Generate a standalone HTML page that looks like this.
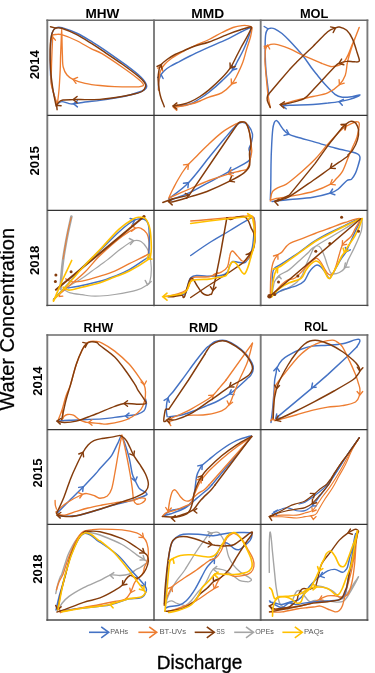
<!DOCTYPE html>
<html><head><meta charset="utf-8"><style>
html,body{margin:0;padding:0;background:#fff;width:375px;height:673px;overflow:hidden}
svg{display:block;will-change:transform}
</style></head><body>
<svg width="375" height="673" viewBox="0 0 375 673">
<rect width="375" height="673" fill="#fff"/>
<g fill="none" stroke-linecap="round" stroke-linejoin="round">
<path d="M56.5 104.0C55.6 100.0 52.0 89.0 51.0 80.0C50.0 71.0 50.3 57.8 50.5 50.0C50.7 42.2 51.1 36.7 52.0 33.0C52.9 29.3 54.3 28.7 56.0 27.8C57.7 26.9 58.4 26.7 62.0 27.6C65.6 28.6 72.4 31.1 77.5 33.5C82.6 35.9 88.2 39.6 92.6 42.2C97.0 44.8 98.2 45.5 103.7 49.3C109.2 53.1 119.6 60.3 125.8 64.9C132.0 69.5 137.3 73.6 140.8 77.0C144.3 80.4 146.1 83.3 146.6 85.5C147.1 87.7 146.8 88.4 144.0 90.0C141.2 91.6 134.8 93.7 130.0 95.0C125.2 96.3 120.0 97.1 115.0 98.0C110.0 98.9 105.0 99.7 100.0 100.4C95.0 101.1 89.3 101.4 85.0 102.0C80.7 102.6 76.7 103.5 74.0 103.8C71.3 104.1 71.0 104.0 69.0 103.6C67.0 103.2 63.8 101.6 62.0 101.6C60.2 101.6 58.7 103.2 58.0 103.5" stroke="#4472C4" stroke-width="1.45"/>
<path d="M77.4 100.7L73.5 103.8L77.4 106.9" stroke="#4472C4" stroke-width="1.45" stroke-linejoin="miter"/>
<path d="M57.3 104.5C56.3 101.2 52.4 90.8 51.4 85.0C50.4 79.2 51.3 75.9 51.4 69.9C51.5 64.0 51.9 54.6 52.1 49.3C52.3 44.0 52.5 40.4 52.6 38.0C52.7 35.6 51.9 35.8 52.5 35.2C53.1 34.6 54.5 34.6 56.0 34.5C57.5 34.4 58.3 33.7 61.7 34.7C65.1 35.7 71.4 38.2 76.3 40.5C81.2 42.8 86.7 46.4 91.0 48.6C95.3 50.8 96.8 50.6 102.0 53.7C107.2 56.8 116.2 63.0 122.0 67.0C127.8 71.0 133.4 75.1 137.0 78.0C140.6 80.9 143.0 83.1 143.5 84.5C144.0 85.9 142.4 86.2 140.0 86.6C137.6 87.0 133.5 86.9 129.3 86.9C125.1 86.9 119.6 86.8 114.7 86.6C109.8 86.4 104.9 86.0 100.0 85.5C95.1 85.0 89.5 84.3 85.1 83.3C80.7 82.3 76.4 81.0 73.4 79.6C70.4 78.2 68.7 77.1 67.0 75.0C65.3 72.9 64.0 70.3 63.2 67.0C62.4 63.7 62.6 59.5 62.4 55.0C62.2 50.5 62.1 44.3 62.0 40.0C61.9 35.7 61.8 29.0 61.7 29.0C61.6 29.0 61.4 35.7 61.2 40.0C61.0 44.3 60.8 50.0 60.6 55.0C60.4 60.0 60.5 64.2 60.2 70.0C59.9 75.8 59.5 84.2 59.0 90.0C58.5 95.8 57.6 102.1 57.3 104.5" stroke="#ED7D31" stroke-width="1.35"/>
<path d="M55.4 40.2L52.9 37.0L50.4 40.2" stroke="#ED7D31" stroke-width="1.35" stroke-linejoin="miter"/>
<path d="M77.6 77.4L73.0 79.4L76.0 83.4" stroke="#ED7D31" stroke-width="1.35" stroke-linejoin="miter"/>
<path d="M56.1 106.0C55.6 103.3 53.9 96.0 53.0 90.0C52.1 84.0 51.1 76.7 50.6 70.0C50.1 63.3 50.0 55.3 50.1 50.0C50.2 44.7 50.5 41.2 51.0 38.0C51.5 34.8 52.2 32.6 53.0 31.0C53.8 29.4 54.3 28.6 55.8 28.1C57.2 27.7 58.3 27.2 61.7 28.3C65.1 29.4 71.4 31.9 76.3 34.4C81.2 36.9 86.7 40.5 91.0 43.2C95.3 45.9 96.8 46.9 102.0 50.4C107.2 53.9 116.0 59.7 122.0 64.0C128.0 68.3 134.2 72.9 138.0 76.0C141.8 79.1 143.2 80.8 144.5 82.5C145.8 84.2 146.1 84.8 145.7 86.3C145.3 87.8 144.3 90.1 142.0 91.5C139.7 92.9 135.3 93.7 132.0 94.5C128.7 95.3 125.7 95.9 122.0 96.5C118.3 97.1 113.7 97.8 110.0 98.3C106.3 98.8 104.2 99.2 100.0 99.4C95.8 99.6 89.4 99.6 85.0 99.6C80.6 99.6 77.1 99.5 73.4 99.6C69.7 99.7 65.4 99.6 63.0 100.0C60.6 100.4 60.1 101.0 59.0 102.0C57.9 103.0 56.6 105.3 56.1 106.0" stroke="#843C0C" stroke-width="1.45"/>
<path d="M50.5 26.7L55.8 28.1" stroke="#843C0C" stroke-width="1.45"/>
<path d="M77.1 96.5L73.2 99.6L77.1 102.7" stroke="#843C0C" stroke-width="1.45" stroke-linejoin="miter"/>
<path d="M61.1 105.7L56.6 105.2L57.1 109.7" stroke="#843C0C" stroke-width="1.45" stroke-linejoin="miter"/>
<path d="M158.6 90.0C158.6 88.8 158.3 85.3 158.6 83.0C158.9 80.7 159.5 78.0 160.4 76.0C161.3 74.0 162.4 72.6 164.0 71.0C165.6 69.4 167.5 68.0 170.0 66.5C172.5 65.0 175.6 63.5 178.9 61.8C182.2 60.0 185.0 58.5 190.0 56.0C195.0 53.5 202.5 50.1 209.0 47.1C215.5 44.1 223.7 40.8 229.0 38.3C234.3 35.8 237.6 33.7 241.0 32.0C244.4 30.3 247.8 28.5 249.5 28.0C251.2 27.5 251.1 27.7 251.0 29.0C250.9 30.3 250.2 32.6 249.0 36.0C247.8 39.4 245.7 45.0 243.7 49.3C241.7 53.6 239.0 58.4 237.1 62.0C235.2 65.6 234.6 67.6 232.0 70.8C229.4 74.0 225.5 77.5 221.7 81.1C217.9 84.7 212.6 89.3 209.0 92.2C205.4 95.1 203.1 96.6 200.0 98.5C196.9 100.4 194.2 102.5 190.7 103.8C187.2 105.0 181.3 105.6 178.9 106.0C176.5 106.4 176.5 106.2 176.0 106.2" stroke="#4472C4" stroke-width="1.45"/>
<path d="M163.1 78.5L161.0 74.5L157.7 77.5" stroke="#4472C4" stroke-width="1.45" stroke-linejoin="miter"/>
<path d="M232.3 65.5L232.5 70.0L236.8 68.7" stroke="#4472C4" stroke-width="1.45" stroke-linejoin="miter"/>
<path d="M174.5 107.3C176.2 107.0 182.3 106.0 185.0 105.5C187.7 105.0 188.2 105.0 190.7 104.2C193.2 103.5 196.9 102.2 200.0 101.0C203.1 99.8 205.4 98.6 209.0 97.2C212.6 95.8 218.0 94.9 221.7 92.8C225.4 90.7 228.8 87.4 231.2 84.7C233.6 82.0 234.4 80.5 236.3 76.7C238.2 72.9 241.2 66.6 242.9 62.0C244.6 57.4 245.3 53.5 246.6 49.3C247.9 45.1 249.6 40.4 250.5 37.0C251.4 33.6 251.8 30.6 252.0 29.0C252.2 27.4 252.3 27.8 251.7 27.3C251.1 26.8 250.1 26.1 248.5 25.8C246.9 25.5 244.6 25.3 242.0 25.6C239.4 25.9 236.3 26.4 233.0 27.5C229.7 28.6 226.0 30.5 222.0 32.5C218.0 34.5 213.5 37.3 209.0 39.5C204.5 41.7 199.3 43.5 195.0 45.5C190.7 47.5 187.1 49.2 183.3 51.3C179.5 53.4 175.1 55.8 172.0 58.0C168.9 60.2 166.4 62.3 164.5 64.5C162.6 66.7 161.4 68.4 160.5 71.0C159.6 73.6 159.3 76.8 159.0 80.0C158.7 83.2 158.6 88.3 158.5 90.0" stroke="#ED7D31" stroke-width="1.35"/>
<path d="M162.6 71.0L162.0 66.5L157.8 68.2" stroke="#ED7D31" stroke-width="1.35" stroke-linejoin="miter"/>
<path d="M231.2 79.0L231.5 84.0L236.3 82.5" stroke="#ED7D31" stroke-width="1.35" stroke-linejoin="miter"/>
<path d="M177.3 104.8L173.5 107.3L176.8 110.4" stroke="#ED7D31" stroke-width="1.35" stroke-linejoin="miter"/>
<path d="M164.3 106.7C163.8 105.2 161.8 100.6 161.0 98.0C160.2 95.4 159.9 94.4 159.4 91.3C158.9 88.2 158.2 83.3 158.1 79.6C158.0 75.9 158.6 71.8 159.1 69.3C159.6 66.8 160.0 66.1 161.3 64.5C162.6 62.9 164.7 61.2 167.0 59.5C169.3 57.8 172.3 56.0 175.0 54.5C177.7 53.0 180.0 52.2 183.3 50.8C186.6 49.4 190.7 47.5 195.0 46.0C199.3 44.5 203.3 44.0 209.0 42.0C214.7 40.0 223.8 35.9 229.0 33.9C234.2 31.9 236.6 31.1 240.0 30.0C243.4 28.9 247.6 27.4 249.5 27.0C251.4 26.6 251.4 26.8 251.5 27.5C251.6 28.2 250.8 29.3 250.0 31.0C249.2 32.7 248.1 34.9 246.6 37.6C245.1 40.4 242.7 44.3 241.0 47.5C239.3 50.7 238.1 53.3 236.3 56.7C234.6 60.1 232.9 64.1 230.5 67.7C228.1 71.3 225.3 74.4 221.7 78.1C218.1 81.8 212.6 86.8 209.0 89.9C205.4 93.0 203.1 94.5 200.0 96.5C196.9 98.5 193.7 100.3 190.7 101.6C187.7 102.9 184.2 103.9 182.0 104.5C179.8 105.1 178.9 105.0 177.5 105.3C176.1 105.5 174.0 105.9 173.3 106.0" stroke="#843C0C" stroke-width="1.45"/>
<path d="M162.0 68.9L161.0 64.5L157.0 66.5" stroke="#843C0C" stroke-width="1.45" stroke-linejoin="miter"/>
<path d="M230.0 63.0L230.3 68.0L235.1 66.5" stroke="#843C0C" stroke-width="1.45" stroke-linejoin="miter"/>
<path d="M176.9 102.9L173.0 106.0L176.9 109.1" stroke="#843C0C" stroke-width="1.45" stroke-linejoin="miter"/>
<path d="M268.8 95.0C268.6 92.9 267.8 86.7 267.3 82.5C266.8 78.3 266.3 75.4 265.9 69.9C265.5 64.4 265.2 55.1 265.1 49.3C265.1 43.5 265.2 38.3 265.6 35.0C266.0 31.7 266.7 30.6 267.5 29.5C268.3 28.4 269.3 28.3 270.5 28.2C271.7 28.1 272.8 27.9 274.7 28.8C276.6 29.7 279.6 31.6 282.0 33.5C284.4 35.5 285.9 36.9 289.3 40.5C292.7 44.1 298.8 50.7 302.5 55.2C306.2 59.7 308.7 64.0 311.3 67.5C313.9 71.0 315.8 73.2 318.0 76.0C320.2 78.8 321.9 81.0 324.7 84.0C327.5 87.0 332.1 92.1 335.0 94.3C337.9 96.5 339.5 96.8 342.3 97.2C345.1 97.6 349.1 97.0 352.0 96.6C354.9 96.2 360.3 94.5 359.9 95.0C359.5 95.5 353.1 98.3 349.7 99.4C346.3 100.5 343.1 101.0 339.4 101.6C335.7 102.2 332.1 102.6 327.7 103.1C323.3 103.6 319.4 104.1 313.0 104.5C306.6 104.9 294.5 105.0 289.3 105.3C284.1 105.5 283.2 105.9 282.0 106.0" stroke="#4472C4" stroke-width="1.45"/>
<path d="M264.2 26.5L267.5 28.5" stroke="#4472C4" stroke-width="1.45"/>
<path d="M343.4 99.3L339.0 101.6L342.3 105.3" stroke="#4472C4" stroke-width="1.45" stroke-linejoin="miter"/>
<path d="M286.2 103.7L283.0 106.2L286.2 108.7" stroke="#4472C4" stroke-width="1.45" stroke-linejoin="miter"/>
<path d="M270.3 107.5C269.9 105.5 268.7 100.1 268.1 95.7C267.5 91.3 267.1 86.7 266.6 81.1C266.1 75.5 265.2 66.1 265.0 62.0C264.8 57.9 265.0 58.9 265.1 56.7C265.2 54.5 265.1 50.9 265.6 49.0C266.1 47.1 266.6 46.3 268.1 45.5C269.6 44.7 271.2 43.7 274.7 44.2C278.2 44.7 284.7 46.8 289.3 48.6C293.9 50.4 298.6 53.4 302.5 55.2C306.4 57.0 309.8 58.2 313.0 59.6C316.2 61.0 319.1 62.4 322.0 63.5C324.9 64.7 327.9 66.2 330.6 66.5C333.3 66.8 335.8 66.2 338.0 65.5C340.2 64.8 342.3 63.8 344.0 62.0C345.7 60.2 346.7 57.8 348.0 55.0C349.3 52.2 350.8 48.0 352.0 45.0C353.2 42.0 354.3 39.9 355.5 37.0C356.7 34.1 359.2 27.5 359.2 27.5C359.2 27.5 356.9 33.4 355.5 37.0C354.1 40.6 352.4 45.1 351.1 49.3C349.8 53.5 348.5 57.7 347.5 62.0C346.5 66.3 346.7 71.4 345.3 75.2C343.9 79.0 342.3 81.8 339.4 84.7C336.5 87.6 332.1 90.8 327.7 92.8C323.3 94.8 318.2 95.3 313.0 96.5C307.8 97.7 301.9 98.8 296.7 100.1C291.5 101.4 284.4 103.8 282.0 104.5" stroke="#ED7D31" stroke-width="1.35"/>
<path d="M269.7 49.0L267.6 45.0L264.3 48.0" stroke="#ED7D31" stroke-width="1.35" stroke-linejoin="miter"/>
<path d="M339.1 79.7L339.4 84.7L344.2 83.2" stroke="#ED7D31" stroke-width="1.35" stroke-linejoin="miter"/>
<path d="M264.2 46.2L267.6 46.2" stroke="#ED7D31" stroke-width="1.35"/>
<path d="M270.3 107.5C269.8 106.3 267.8 102.4 267.3 100.5C266.8 98.6 267.1 97.3 267.5 96.0C267.9 94.7 266.4 96.8 270.0 92.5C273.6 88.2 284.9 75.0 289.3 69.9C293.8 64.8 292.8 65.9 296.7 62.0C300.6 58.1 307.8 51.4 313.0 46.4C318.2 41.4 324.0 34.8 327.7 31.7C331.4 28.6 333.1 28.9 335.0 28.1C336.9 27.3 337.4 26.6 339.4 27.0C341.3 27.4 344.5 28.3 346.7 30.3C348.9 32.3 350.9 35.4 352.6 39.1C354.3 42.8 355.9 48.6 357.0 52.3C358.1 55.9 359.8 59.4 359.3 61.0C358.8 62.6 356.2 61.7 354.1 61.8C352.0 61.9 349.1 61.1 346.7 61.4C344.2 61.6 341.3 62.4 339.4 63.3C337.4 64.1 339.4 62.1 335.0 66.5C330.6 70.9 318.2 84.5 313.0 89.9C307.8 95.3 307.9 96.5 304.0 98.7C300.1 100.9 293.2 102.1 289.3 103.1C285.4 104.1 282.0 104.3 280.5 104.5" stroke="#843C0C" stroke-width="1.45"/>
<path d="M333.2 32.5L335.5 28.0L330.6 26.9" stroke="#843C0C" stroke-width="1.45" stroke-linejoin="miter"/>
<path d="M341.6 59.1L339.0 63.3L343.8 64.8" stroke="#843C0C" stroke-width="1.45" stroke-linejoin="miter"/>
<path d="M284.4 101.8L280.2 104.5L283.9 107.9" stroke="#843C0C" stroke-width="1.45" stroke-linejoin="miter"/>
<path d="M168.7 198.8C172.0 196.1 181.8 189.6 188.5 182.7C195.2 175.8 203.0 164.9 209.0 157.5C215.0 150.1 220.0 143.9 224.6 138.5C229.2 133.1 233.4 128.0 236.3 125.3C239.2 122.6 240.2 122.3 242.2 122.3C244.2 122.3 246.4 123.3 248.1 125.3C249.8 127.3 252.0 131.2 252.5 134.1C253.0 137.0 251.9 140.5 251.3 142.9C250.7 145.3 249.2 146.7 249.0 148.7C248.8 150.7 250.5 152.9 250.3 155.0C250.2 157.1 251.7 158.6 248.1 161.4C244.5 164.2 235.8 168.0 229.0 171.7C222.2 175.4 213.4 180.0 207.0 183.4C200.6 186.8 196.8 189.4 190.7 192.2C184.5 195.0 173.5 199.0 170.1 200.3" stroke="#4472C4" stroke-width="1.45"/>
<path d="M187.9 187.7L188.5 182.7L183.5 183.3" stroke="#4472C4" stroke-width="1.45" stroke-linejoin="miter"/>
<path d="M230.8 167.5L228.5 172.0L233.4 173.1" stroke="#4472C4" stroke-width="1.45" stroke-linejoin="miter"/>
<path d="M168.7 198.1C169.4 196.6 171.5 191.9 173.0 189.0C174.5 186.1 175.8 183.4 177.5 180.5C179.2 177.6 181.2 174.2 183.0 171.5C184.8 168.8 186.4 166.7 188.5 164.3C190.6 161.9 192.7 160.1 195.8 157.0C198.9 153.9 202.7 149.9 207.0 145.8C211.3 141.7 216.8 136.3 221.7 132.6C226.6 128.9 232.9 125.6 236.3 123.8C239.7 122.0 240.5 121.6 242.2 121.6C243.9 121.6 245.4 122.0 246.6 123.8C247.8 125.6 248.8 129.2 249.5 132.6C250.2 136.0 250.6 141.1 251.0 144.3C251.4 147.5 251.9 149.1 251.7 151.7C251.5 154.3 250.7 157.2 250.0 160.0C249.3 162.8 249.0 166.9 247.3 168.7C245.6 170.5 243.1 170.1 240.0 171.0C236.9 171.9 234.2 172.3 229.0 173.9C223.8 175.5 215.4 178.1 209.0 180.5C202.6 182.9 197.4 185.6 190.7 188.5C184.0 191.4 172.4 196.5 168.7 198.1" stroke="#ED7D31" stroke-width="1.35"/>
<path d="M187.9 169.3L188.5 164.3L183.5 164.9" stroke="#ED7D31" stroke-width="1.35" stroke-linejoin="miter"/>
<path d="M231.5 169.9L228.5 173.9L233.1 175.9" stroke="#ED7D31" stroke-width="1.35" stroke-linejoin="miter"/>
<path d="M162.8 202.5L172.0 199.0L189.2 195.1L213.0 160.0L236.5 125.5" stroke="#843C0C" stroke-width="1.45"/>
<path d="M236.5 125.5C236.9 125.0 238.2 123.2 239.0 122.6C239.8 122.0 240.3 121.9 241.5 122.0C242.7 122.1 244.6 121.2 245.9 123.0C247.2 124.8 248.7 129.0 249.5 132.6C250.3 136.2 251.0 140.9 251.0 144.3C251.0 147.7 249.8 149.5 249.5 153.1C249.2 156.7 250.5 162.5 249.5 165.8C248.5 169.1 247.0 170.5 243.7 173.1C240.4 175.7 235.8 178.1 229.7 181.2C223.6 184.3 213.5 188.9 207.0 191.5C200.5 194.1 196.3 194.9 190.7 196.6C185.0 198.3 176.8 200.9 173.1 201.7C169.4 202.5 169.4 201.5 168.7 201.5" stroke="#843C0C" stroke-width="1.45"/>
<path d="M186.6 198.2L189.0 195.0L185.3 193.4" stroke="#843C0C" stroke-width="1.45" stroke-linejoin="miter"/>
<path d="M231.4 176.6L229.5 181.2L234.5 181.9" stroke="#843C0C" stroke-width="1.45" stroke-linejoin="miter"/>
<path d="M172.7 198.8L168.5 201.5L172.2 204.9" stroke="#843C0C" stroke-width="1.45" stroke-linejoin="miter"/>
<path d="M270.3 199.5C270.4 197.1 270.7 190.8 270.8 185.0C270.9 179.2 270.9 171.7 271.0 164.9C271.1 158.1 271.4 150.3 271.7 144.3C272.0 138.3 272.4 132.6 272.8 129.0C273.2 125.4 273.8 123.9 274.3 122.5C274.8 121.1 275.4 120.7 276.0 120.6C276.6 120.5 276.9 120.5 278.2 122.0C279.4 123.5 281.8 127.7 283.5 129.7C285.2 131.7 286.4 132.9 288.6 134.1C290.8 135.3 292.3 135.7 296.7 137.0C301.1 138.3 308.6 140.3 315.0 142.1C321.4 143.9 328.8 146.3 335.0 148.0C341.2 149.7 348.2 151.0 352.0 152.0C355.8 153.0 356.2 153.1 357.5 153.8C358.8 154.5 359.2 155.1 359.6 156.0C360.0 156.9 360.2 157.3 359.9 159.0C359.6 160.7 358.7 163.7 358.0 166.0C357.3 168.3 356.6 170.9 355.5 173.1C354.4 175.3 353.0 177.9 351.5 179.2C350.0 180.5 348.9 179.0 346.7 180.7C344.4 182.4 340.7 187.2 338.0 189.3C335.3 191.4 334.8 191.7 330.6 193.0C326.4 194.3 319.8 196.2 313.0 197.3C306.2 198.4 296.1 198.9 290.0 199.5C283.9 200.1 279.1 200.7 276.1 201.0C273.1 201.3 272.7 201.4 272.0 201.5" stroke="#4472C4" stroke-width="1.45"/>
<path d="M284.1 135.4L289.0 134.3L286.7 129.8" stroke="#4472C4" stroke-width="1.45" stroke-linejoin="miter"/>
<path d="M332.6 189.0L330.0 193.2L334.8 194.7" stroke="#4472C4" stroke-width="1.45" stroke-linejoin="miter"/>
<path d="M270.3 201.0C270.5 199.8 271.0 195.7 271.5 194.0C272.0 192.3 272.2 191.7 273.2 190.7C274.2 189.7 275.4 188.9 277.6 187.8C279.8 186.7 283.2 186.1 286.4 184.1C289.6 182.1 291.9 180.2 296.7 176.1C301.5 171.9 309.8 164.5 315.0 159.2C320.2 153.9 323.1 149.4 327.7 144.3C332.2 139.2 338.1 132.4 342.3 128.9C346.5 125.4 350.1 124.3 352.6 123.1C355.1 121.9 356.4 121.6 357.5 121.8C358.6 122.0 359.4 122.0 359.3 124.5C359.2 127.0 358.1 133.2 357.0 137.0C355.9 140.8 354.1 143.9 352.6 147.3C351.1 150.7 349.9 153.4 348.2 157.5C346.5 161.6 344.3 168.1 342.3 171.7C340.3 175.3 337.9 176.9 336.0 179.0C334.1 181.1 334.4 182.0 330.6 184.1C326.8 186.2 318.6 189.7 313.0 191.5C307.4 193.3 301.5 194.1 296.7 195.1C291.9 196.1 287.7 196.9 284.0 197.5C280.3 198.1 276.9 198.4 274.7 198.8C272.5 199.2 271.6 199.8 271.0 200.0" stroke="#ED7D31" stroke-width="1.35"/>
<path d="M345.0 130.3L346.5 125.5L341.5 125.2" stroke="#ED7D31" stroke-width="1.35" stroke-linejoin="miter"/>
<path d="M332.2 179.5L330.3 184.1L335.3 184.8" stroke="#ED7D31" stroke-width="1.35" stroke-linejoin="miter"/>
<path d="M277.6 201.0L289.3 195.1L315.0 163.6L327.7 145.8L342.3 127.5" stroke="#843C0C" stroke-width="1.45"/>
<path d="M342.3 127.5C342.9 127.0 344.8 125.2 346.0 124.2C347.2 123.2 348.5 122.0 349.7 121.6C350.9 121.1 351.9 121.2 353.0 121.5C354.1 121.8 355.1 122.1 356.0 123.5C356.9 124.9 358.2 127.0 358.5 129.7C358.8 132.4 358.5 136.5 357.5 139.9C356.5 143.3 354.2 147.8 352.6 150.2C351.1 152.6 349.2 153.5 348.2 154.6C347.2 155.7 349.6 154.8 346.7 157.0C343.8 159.2 336.2 164.1 330.6 168.0C325.0 171.9 319.9 175.7 313.0 180.5C306.1 185.3 295.0 193.3 289.3 196.6C283.6 199.9 281.4 199.5 279.0 200.3C276.6 201.1 275.4 201.3 274.7 201.5" stroke="#843C0C" stroke-width="1.45"/>
<path d="M345.0 129.2L346.0 124.3L341.0 124.5" stroke="#843C0C" stroke-width="1.45" stroke-linejoin="miter"/>
<path d="M331.8 163.4L330.3 168.2L335.3 168.5" stroke="#843C0C" stroke-width="1.45" stroke-linejoin="miter"/>
<path d="M279.1 199.2L274.7 201.5L278.0 205.2" stroke="#843C0C" stroke-width="1.45" stroke-linejoin="miter"/>
<path d="M71.4 216.6C70.8 219.2 69.1 226.8 68.0 232.0C66.9 237.2 65.8 243.3 65.0 248.0C64.2 252.7 63.7 255.5 63.1 260.0C62.5 264.5 61.9 270.2 61.5 275.0C61.1 279.8 60.7 286.7 60.5 289.0" stroke="#A5A5A5" stroke-width="2.6"/>
<path d="M71.2 217.5C70.6 219.9 68.8 226.9 67.8 232.0C66.8 237.1 65.7 243.5 64.9 248.0C64.1 252.5 63.4 257.2 63.1 259.0" stroke="#ED7D31" stroke-width="1.0"/>
<path d="M60.5 292.5C62.1 291.3 66.4 287.9 70.0 285.5C73.6 283.1 78.3 280.7 82.0 278.3C85.7 275.9 88.7 273.4 92.0 271.0C95.3 268.6 99.5 265.6 102.0 263.7C104.5 261.8 104.0 262.5 107.3 259.9C110.6 257.3 117.6 251.3 122.0 248.1C126.4 244.9 130.5 241.9 133.7 240.8C136.9 239.7 138.8 240.3 141.0 241.5C143.2 242.7 145.5 245.8 146.9 248.1C148.3 250.3 148.9 251.7 149.6 255.0C150.3 258.3 151.2 263.7 151.3 268.1C151.4 272.5 150.6 278.5 149.9 281.3C149.2 284.1 149.1 283.5 146.9 285.0C144.7 286.5 142.1 288.5 136.7 290.1C131.3 291.7 120.8 293.5 114.7 294.5C108.6 295.5 104.0 295.8 100.0 296.0C96.0 296.2 94.0 296.2 91.0 296.0C88.0 295.8 85.5 295.2 82.0 294.7C78.5 294.2 73.2 293.6 70.3 292.8C67.4 292.0 65.6 290.5 64.7 290.0" stroke="#A5A5A5" stroke-width="1.2"/>
<path d="M130.4 244.5L133.7 240.8L129.3 238.5" stroke="#A5A5A5" stroke-width="1.45" stroke-linejoin="miter"/>
<path d="M145.2 280.4L147.5 284.8L151.2 281.5" stroke="#A5A5A5" stroke-width="1.45" stroke-linejoin="miter"/>
<path d="M54.0 299.0C56.7 296.7 64.8 289.5 70.0 285.0C75.2 280.5 80.0 276.9 85.0 272.0C90.0 267.1 93.8 261.4 100.0 255.5C106.2 249.6 116.1 240.9 122.0 236.4C127.9 231.9 132.0 229.7 135.2 228.3C138.4 227.0 139.1 227.4 141.0 228.3C142.9 229.2 145.6 231.2 146.9 233.5C148.2 235.8 148.8 239.2 149.1 242.3C149.3 245.4 148.8 249.9 148.4 252.0C148.0 254.1 150.1 253.0 146.9 254.9C143.7 256.9 134.7 261.0 129.3 263.7C123.9 266.4 119.6 269.0 114.7 271.1C109.8 273.2 105.5 274.5 100.0 276.2C94.5 277.9 86.8 280.2 82.0 281.1C77.2 282.0 74.0 282.0 71.3 281.6C68.6 281.2 66.6 279.3 65.7 278.8" stroke="#ED7D31" stroke-width="1.35"/>
<path d="M131.6 231.3L135.5 228.2L131.6 225.1" stroke="#ED7D31" stroke-width="1.35" stroke-linejoin="miter"/>
<path d="M59.7 293.0L59.3 296.5L62.8 296.1" stroke="#ED7D31" stroke-width="1.35" stroke-linejoin="miter"/>
<path d="M53.5 299.3C55.9 296.8 63.2 289.3 68.0 284.0C72.8 278.7 76.7 273.2 82.0 267.6C87.3 262.0 93.7 256.6 100.0 250.5C106.3 244.4 114.2 236.1 120.0 231.0C125.8 225.9 130.5 222.1 134.5 220.2C138.5 218.2 141.7 218.6 144.0 219.3C146.3 220.1 147.5 221.2 148.4 224.7C149.3 228.1 149.3 234.6 149.3 240.0C149.3 245.4 148.8 253.9 148.4 256.9C148.0 259.9 150.1 255.9 146.9 258.0C143.7 260.1 134.7 266.6 129.3 269.6C123.9 272.6 119.6 274.2 114.7 276.2C109.8 278.1 105.5 279.8 100.0 281.3C94.5 282.9 87.3 284.4 82.0 285.5C76.7 286.6 70.3 287.6 68.0 288.0" stroke="#4472C4" stroke-width="1.45"/>
<path d="M132.7 224.1L135.0 219.6L130.1 218.5" stroke="#4472C4" stroke-width="1.45" stroke-linejoin="miter"/>
<path d="M55.9 289.8L144.0 216.6" stroke="#843C0C" stroke-width="2.0"/>
<circle cx="144" cy="216.6" r="1.6" fill="#843C0C"/>
<circle cx="55.9" cy="275.1" r="1.5" fill="#843C0C"/>
<circle cx="55.4" cy="281.6" r="1.5" fill="#843C0C"/>
<circle cx="71.1" cy="271.8" r="1.5" fill="#843C0C"/>
<path d="M53.5 300.3C56.2 297.2 64.8 287.9 70.0 282.0C75.2 276.1 80.0 270.4 85.0 265.0C90.0 259.6 94.3 255.6 100.0 249.6C105.7 243.6 113.5 234.2 119.1 229.1C124.7 224.0 130.3 220.8 133.7 218.8C137.1 216.8 137.6 217.3 139.6 217.3C141.6 217.3 143.8 216.8 145.5 218.8C147.2 220.8 148.9 224.4 149.9 229.1C150.9 233.8 151.2 242.2 151.3 246.7C151.4 251.2 151.0 253.9 150.5 256.0C150.0 258.1 151.9 256.8 148.4 259.3C144.9 261.8 134.9 268.2 129.3 271.1C123.7 274.1 119.6 275.1 114.7 277.0C109.8 278.9 105.5 281.1 100.0 282.8C94.5 284.5 87.2 286.0 82.0 287.2C76.8 288.4 72.2 290.1 69.0 290.1C65.8 290.1 64.1 287.7 63.1 287.2" stroke="#FFC000" stroke-width="1.65"/>
<path d="M71.7 260.5L62.0 281.0L53.5 301.2" stroke="#FFC000" stroke-width="1.7"/>
<path d="M149.0 254.3L147.3 258.5L151.8 259.1" stroke="#FFC000" stroke-width="1.65" stroke-linejoin="miter"/>
<path d="M190.7 255.5C193.8 253.4 202.4 247.2 209.0 243.0C215.6 238.8 223.0 234.7 230.0 230.5C237.0 226.3 246.9 219.8 251.0 218.1C255.1 216.4 254.0 218.2 254.5 220.5C255.0 222.8 254.3 227.6 254.0 232.0C253.7 236.4 253.2 242.5 252.5 246.7C251.8 250.8 250.5 254.5 249.5 256.9C248.5 259.2 247.4 259.8 246.6 260.8C245.8 261.8 245.9 262.6 244.4 262.8C242.9 263.1 239.8 262.5 237.8 262.3C235.9 262.1 234.1 260.9 232.7 261.5C231.3 262.1 230.4 264.2 229.5 266.0C228.6 267.8 228.8 270.4 227.5 272.0C226.2 273.6 225.1 274.6 221.7 275.3C218.3 276.0 211.2 276.2 207.0 276.2C202.8 276.2 199.2 275.2 196.5 275.5C193.8 275.8 192.0 276.5 190.7 277.7C189.4 278.9 189.2 280.5 188.5 282.8C187.8 285.1 187.2 289.7 186.3 291.6C185.4 293.6 186.2 293.8 183.3 294.5C180.4 295.2 171.1 295.8 168.7 296.0" stroke="#4472C4" stroke-width="1.45"/>
<path d="M190.7 221.0C193.8 220.8 202.4 220.1 209.0 219.5C215.6 218.9 223.2 218.1 230.0 217.5C236.8 216.9 245.5 215.7 249.5 215.9C253.5 216.1 252.9 216.1 253.9 218.8C254.9 221.5 255.4 227.3 255.4 232.0C255.4 236.7 254.6 243.0 253.9 246.7C253.2 250.4 251.7 252.4 251.0 254.0C250.3 255.6 250.3 255.3 249.5 256.4C248.7 257.5 247.1 259.7 245.9 260.5C244.7 261.3 243.5 261.7 242.2 261.0C240.8 260.3 239.2 257.9 237.8 256.4C236.4 254.9 234.9 252.9 234.0 252.0C233.1 251.1 233.0 250.9 232.5 251.0C232.0 251.1 231.3 251.6 230.8 252.5C230.3 253.4 230.2 254.0 229.7 256.4C229.1 258.8 228.8 264.1 227.5 266.7C226.2 269.3 223.9 270.5 221.7 271.8C219.5 273.1 216.4 273.9 214.3 274.7C212.2 275.5 211.7 276.5 209.0 276.9C206.3 277.3 200.8 276.8 198.0 277.0C195.2 277.2 193.8 276.4 192.1 278.4C190.4 280.3 189.4 286.4 187.7 288.7C186.0 291.0 184.6 291.2 181.9 292.3C179.2 293.4 174.6 294.6 171.6 295.3C168.6 296.0 165.3 296.3 164.0 296.5" stroke="#ED7D31" stroke-width="1.35"/>
<path d="M217.9 272.7L213.8 274.5L216.5 278.1" stroke="#ED7D31" stroke-width="1.35" stroke-linejoin="miter"/>
<path d="M190.7 297.5L207.0 286.5L229.0 272.5L243.7 262.3L250.3 253.8" stroke="#843C0C" stroke-width="1.45"/>
<path d="M250.4 258.1L250.6 253.6L246.2 254.5" stroke="#843C0C" stroke-width="1.45" stroke-linejoin="miter"/>
<path d="M248.1 254.0C248.8 253.4 251.4 252.4 252.5 250.5C253.6 248.6 254.5 245.1 254.7 242.3C254.9 239.5 254.5 235.9 253.9 233.5C253.3 231.1 252.0 229.8 251.0 227.6C250.0 225.4 249.3 222.1 248.1 220.3C246.9 218.5 245.7 217.1 243.7 216.6C241.7 216.1 238.5 216.8 236.3 217.3C234.1 217.8 232.1 219.4 230.5 219.5C228.9 219.6 227.7 217.6 227.0 217.8C226.3 218.1 227.1 216.5 226.3 221.0C225.5 225.5 223.0 239.3 222.0 245.0C221.0 250.7 221.7 247.5 220.2 255.0C218.7 262.5 214.6 283.5 212.9 290.1C211.2 296.7 210.9 293.6 209.9 294.5C208.9 295.4 208.2 295.5 207.0 295.3C205.8 295.1 203.9 294.5 202.4 293.1C200.9 291.8 199.5 289.4 198.0 287.2C196.5 285.0 194.8 281.4 193.6 279.9C192.4 278.4 191.7 277.4 190.7 278.4C189.7 279.4 188.7 282.8 187.7 285.7C186.7 288.6 185.5 294.0 184.8 296.0C184.1 298.0 183.8 297.6 183.3 297.5C182.8 297.4 183.6 295.4 181.9 295.3C180.2 295.2 175.4 296.4 173.1 296.7C170.8 296.9 168.8 296.8 168.0 296.8" stroke="#843C0C" stroke-width="1.5"/>
<path d="M210.4 286.7L212.9 290.5L216.0 287.2" stroke="#843C0C" stroke-width="1.45" stroke-linejoin="miter"/>
<path d="M190.7 223.5L209.0 221.0L230.0 218.5L251.3 216.2" stroke="#FFC000" stroke-width="1.65"/>
<path d="M248.2 219.3L251.5 216.2L247.7 213.7" stroke="#FFC000" stroke-width="1.65" stroke-linejoin="miter"/>
<path d="M251.3 216.2C251.6 216.7 252.3 216.7 252.8 219.0C253.3 221.3 254.2 226.6 254.5 230.0C254.8 233.4 254.9 236.3 254.7 239.3C254.5 242.3 254.1 245.2 253.5 248.0C252.9 250.8 251.9 253.3 251.0 256.4C250.1 259.5 249.1 263.9 248.1 266.7C247.1 269.5 246.1 272.3 245.1 273.3C244.1 274.3 243.7 274.1 242.2 272.5C240.7 270.9 238.0 265.4 236.3 263.7C234.6 262.0 233.1 261.6 231.9 262.3C230.7 263.0 230.0 265.9 229.0 268.1C228.0 270.3 228.3 273.9 226.1 275.5C223.9 277.1 218.7 277.1 215.8 277.7C213.0 278.3 212.9 278.6 209.0 279.1C205.1 279.6 195.8 278.8 192.1 280.6C188.4 282.4 188.7 287.9 187.0 290.1C185.3 292.3 185.0 292.8 181.9 293.8C178.8 294.8 171.8 295.5 168.7 296.0C165.6 296.5 164.4 296.6 163.5 296.7" stroke="#FFC000" stroke-width="1.65"/>
<path d="M167.0 293.2L162.8 296.7L167.0 300.2" stroke="#FFC000" stroke-width="1.65" stroke-linejoin="miter"/>
<path d="M271.7 294.5C272.0 293.1 273.0 288.2 273.5 286.0C274.0 283.8 273.8 283.1 274.7 281.3C275.6 279.6 276.7 277.4 279.1 275.5C281.5 273.6 286.0 272.0 289.3 269.6C292.6 267.2 295.8 263.9 299.0 261.0C302.2 258.1 306.1 254.7 308.4 252.5C310.7 250.3 309.4 250.3 313.0 247.8C316.6 245.3 324.7 240.7 330.0 237.5C335.3 234.3 340.0 231.5 345.0 228.5C350.0 225.5 357.1 220.6 360.0 219.5C362.9 218.4 361.9 220.2 362.1 222.0C362.4 223.8 361.9 227.8 361.5 230.0C361.1 232.2 361.1 231.9 359.9 234.9C358.7 237.9 356.1 243.9 354.1 248.1C352.2 252.3 349.7 256.7 348.2 259.9C346.7 263.1 346.8 265.4 345.3 267.5C343.8 269.6 341.4 271.4 339.4 272.5C337.3 273.6 334.5 274.0 333.0 274.0C331.5 274.0 331.3 274.0 330.3 272.3C329.3 270.6 327.9 266.4 327.0 264.0C326.1 261.6 326.0 260.3 325.0 257.7C324.0 255.1 322.3 250.3 321.0 248.3C319.7 246.3 318.2 245.7 317.0 245.7C315.8 245.7 314.4 247.4 313.5 248.5C312.6 249.6 312.9 249.6 311.7 252.3C310.4 255.1 307.6 261.2 306.0 265.0C304.4 268.8 303.8 272.2 302.3 275.0C300.8 277.8 299.4 279.8 297.0 282.0C294.6 284.2 290.8 286.4 288.0 288.0C285.2 289.6 282.3 290.6 280.0 291.5C277.7 292.4 275.0 293.2 274.0 293.5" stroke="#A5A5A5" stroke-width="1.3"/>
<path d="M345.4 262.9L344.5 267.3L349.0 267.1" stroke="#A5A5A5" stroke-width="1.45" stroke-linejoin="miter"/>
<path d="M281.2 278.8L279.0 276.0L276.8 278.8" stroke="#A5A5A5" stroke-width="1.45" stroke-linejoin="miter"/>
<path d="M272.5 296.0C272.5 294.2 272.3 288.7 272.3 285.0C272.3 281.3 272.1 276.8 272.5 274.0C272.9 271.2 273.1 269.8 274.7 268.1C276.3 266.4 277.9 266.4 282.0 263.7C286.1 261.0 294.4 255.6 299.6 252.0C304.8 248.4 308.6 245.1 313.0 242.2C317.4 239.3 321.0 237.3 326.3 234.5C331.6 231.7 339.4 228.1 345.0 225.5C350.6 222.9 358.3 217.7 360.0 218.8C361.7 219.9 356.7 227.8 355.0 232.0C353.3 236.2 351.2 240.4 349.7 243.7C348.2 247.0 347.4 249.2 346.0 251.8C344.6 254.4 342.6 256.5 341.0 259.0C339.4 261.5 338.0 264.3 336.5 267.0C335.0 269.7 333.2 273.1 332.0 275.0C330.8 276.9 330.3 278.9 329.1 278.4C327.9 277.9 326.4 273.9 325.0 272.0C323.6 270.1 322.3 268.2 321.0 267.0C319.7 265.8 318.3 264.9 317.0 265.0C315.7 265.1 314.3 266.3 313.0 267.5C311.7 268.7 310.5 270.0 309.0 272.3C307.5 274.6 306.1 279.1 304.0 281.3C301.9 283.5 300.4 284.2 296.7 285.7C293.0 287.2 285.8 288.6 282.0 290.1C278.2 291.7 275.3 294.2 274.0 295.0" stroke="#4472C4" stroke-width="1.45"/>
<path d="M345.3 247.4L346.3 251.8L350.3 249.8" stroke="#4472C4" stroke-width="1.45" stroke-linejoin="miter"/>
<path d="M270.3 297.0C270.3 295.0 270.4 288.8 270.5 285.0C270.6 281.2 270.6 277.8 271.0 274.0C271.4 270.2 272.1 265.5 273.2 262.3C274.3 259.1 276.1 256.6 277.6 254.9C279.1 253.2 280.1 253.9 282.0 252.0C283.9 250.1 285.6 246.0 289.3 243.7C293.0 241.3 299.7 239.6 304.0 237.9C308.3 236.2 310.7 235.2 315.0 233.5C319.3 231.8 325.0 229.8 330.0 228.0C335.0 226.2 340.0 224.1 345.0 222.5C350.0 220.9 358.2 217.4 359.9 218.5C361.6 219.6 356.5 226.0 355.0 229.0C353.5 232.0 352.6 234.4 351.1 236.4C349.6 238.4 347.5 239.5 346.0 241.0C344.5 242.5 343.4 243.0 342.3 245.2C341.2 247.4 340.4 250.5 339.4 254.0C338.3 257.5 337.0 262.9 336.0 266.0C335.0 269.1 334.4 271.0 333.5 272.5C332.6 274.0 331.5 274.8 330.5 275.0C329.5 275.2 328.6 274.4 327.7 273.5C326.8 272.6 326.1 271.5 325.0 269.7C323.9 267.9 322.2 264.3 321.0 262.5C319.8 260.7 318.9 259.7 318.0 259.0C317.1 258.3 316.9 257.8 315.7 258.3C314.5 258.8 312.8 260.3 311.0 262.0C309.2 263.7 307.7 265.6 305.0 268.3C302.3 271.0 297.9 276.1 295.0 278.0C292.1 279.9 290.1 278.8 287.9 279.9C285.7 280.9 284.1 282.3 282.0 284.3C279.9 286.3 276.8 289.9 275.0 292.0C273.2 294.1 271.7 296.2 271.0 297.0" stroke="#ED7D31" stroke-width="1.35"/>
<path d="M278.0 259.2L277.8 254.7L273.5 256.0" stroke="#ED7D31" stroke-width="1.35" stroke-linejoin="miter"/>
<path d="M342.5 240.7L342.3 245.2L346.7 244.3" stroke="#ED7D31" stroke-width="1.35" stroke-linejoin="miter"/>
<path d="M271.7 297.0C271.8 295.0 272.0 288.8 272.5 285.0C273.0 281.2 273.8 276.8 274.7 274.0C275.6 271.2 276.4 269.6 277.6 268.1C278.8 266.6 278.3 267.8 282.0 265.2C285.7 262.6 294.4 256.4 299.6 252.7C304.8 249.0 308.6 245.9 313.0 243.0C317.4 240.1 321.0 238.3 326.3 235.5C331.6 232.7 339.3 228.8 345.0 226.0C350.7 223.2 357.8 219.8 360.5 219.0C363.2 218.2 362.2 218.3 361.4 221.0C360.6 223.7 357.9 230.4 355.5 234.9C353.1 239.4 348.5 245.2 346.7 248.1C344.9 251.0 345.4 251.1 344.5 252.5C343.6 253.9 342.9 254.1 341.6 256.5C340.3 258.9 338.2 263.4 336.5 266.7C334.8 269.9 332.6 274.1 331.5 276.0C330.4 277.9 330.6 278.2 329.9 278.4C329.2 278.6 328.6 278.7 327.5 277.0C326.4 275.3 324.3 270.3 323.0 268.0C321.7 265.7 320.9 264.2 319.7 263.0C318.5 261.8 317.1 260.8 315.7 261.0C314.2 261.2 312.6 262.5 311.0 264.0C309.4 265.5 307.6 267.6 306.0 270.0C304.4 272.4 303.9 276.3 301.1 278.4C298.3 280.5 292.8 281.2 289.3 282.8C285.8 284.4 282.9 285.8 280.0 288.0C277.1 290.2 273.3 294.7 272.0 296.0" stroke="#FFC000" stroke-width="1.65"/>
<path d="M277.4 272.6L277.6 268.1L273.2 269.0" stroke="#FFC000" stroke-width="1.65" stroke-linejoin="miter"/>
<path d="M343.1 248.2L344.5 252.5L348.3 250.1" stroke="#FFC000" stroke-width="1.65" stroke-linejoin="miter"/>
<path d="M269.5 296.5L360.7 218.8" stroke="#843C0C" stroke-width="1.5"/>
<circle cx="269.5" cy="296.2" r="2.2" fill="#843C0C"/>
<circle cx="274.7" cy="294.5" r="1.6" fill="#843C0C"/>
<circle cx="278.5" cy="282" r="1.5" fill="#843C0C"/>
<circle cx="297.9" cy="276" r="1.5" fill="#843C0C"/>
<circle cx="315.8" cy="251.3" r="1.5" fill="#843C0C"/>
<circle cx="329.8" cy="243.5" r="1.5" fill="#843C0C"/>
<circle cx="341.6" cy="217.3" r="1.5" fill="#843C0C"/>
<circle cx="358.5" cy="231.3" r="1.5" fill="#843C0C"/>
<path d="M145.5 399.0C145.7 399.7 146.3 402.0 146.4 403.0C146.5 404.0 146.6 403.6 146.2 404.9C145.8 406.2 145.6 409.2 144.0 410.8C142.4 412.4 139.8 413.6 136.7 414.5C133.6 415.4 129.4 415.4 125.7 415.9C122.0 416.4 118.7 416.9 114.7 417.4C110.8 417.9 109.6 418.4 102.0 418.9C94.4 419.4 76.5 419.9 69.0 420.3C61.5 420.7 59.2 421.0 57.3 421.1" stroke="#4472C4" stroke-width="1.45"/>
<path d="M129.0 413.1L125.5 415.9L129.0 418.7" stroke="#4472C4" stroke-width="1.45" stroke-linejoin="miter"/>
<path d="M58.0 420.5C58.7 418.8 60.7 414.1 62.0 410.0C63.3 405.9 64.6 400.2 66.0 396.0C67.4 391.8 68.8 390.1 70.5 384.9C72.2 379.6 74.3 370.3 76.3 364.5C78.2 358.7 80.5 353.6 82.2 350.0C83.9 346.4 85.1 344.6 86.6 343.2C88.1 341.8 89.5 341.6 91.0 341.3C92.5 341.0 93.6 341.0 95.4 341.3C97.2 341.6 98.8 341.5 102.0 343.1C105.2 344.7 110.2 347.6 114.7 351.1C119.2 354.6 124.9 359.5 129.3 364.3C133.7 369.1 138.6 376.6 141.0 380.0C143.4 383.4 143.2 382.4 144.0 384.4C144.8 386.3 145.4 389.0 145.5 391.7C145.6 394.4 145.4 397.6 144.7 400.5C143.9 403.4 143.1 406.6 141.0 409.3C138.9 412.0 135.5 414.7 132.3 416.7C129.1 418.7 126.2 419.9 122.0 421.1C117.8 422.3 111.0 423.6 107.3 424.0C103.6 424.4 103.1 423.8 100.0 423.5C96.9 423.2 91.3 422.8 88.8 422.5C86.3 422.2 86.7 422.5 85.1 422.0C83.5 421.5 81.2 420.7 79.3 419.6C77.3 418.5 75.4 416.1 73.4 415.2C71.4 414.3 69.1 414.3 67.5 414.5C65.9 414.7 64.9 415.7 64.0 416.5C63.1 417.3 62.3 419.0 62.0 419.5" stroke="#ED7D31" stroke-width="1.35"/>
<path d="M141.0 382.0L144.3 385.0L146.4 381.0" stroke="#ED7D31" stroke-width="1.35" stroke-linejoin="miter"/>
<path d="M92.0 419.7L88.5 422.5L92.0 425.3" stroke="#ED7D31" stroke-width="1.35" stroke-linejoin="miter"/>
<path d="M62.4 410.1L63.1 418.1" stroke="#ED7D31" stroke-width="1.35"/>
<path d="M61.7 419.6C62.4 416.3 64.5 405.8 66.0 400.0C67.5 394.2 68.8 390.8 70.5 384.9C72.2 378.9 74.3 370.2 76.3 364.3C78.2 358.4 80.5 353.1 82.2 349.7C83.9 346.3 85.1 345.1 86.6 343.8C88.1 342.5 89.3 342.0 91.0 341.8C92.7 341.6 95.4 341.9 96.9 342.5C98.4 343.1 97.0 343.1 100.0 345.5C103.0 347.9 110.3 352.6 114.7 357.0C119.1 361.4 123.0 367.1 126.4 371.7C129.8 376.3 133.2 381.8 135.2 384.9C137.1 388.0 136.6 387.9 138.1 390.3C139.6 392.7 142.7 396.9 144.0 399.1C145.3 401.3 147.0 402.6 145.8 403.5C144.6 404.4 140.3 404.2 136.7 404.2C133.1 404.2 127.9 403.1 124.2 403.5C120.5 403.9 118.7 404.9 114.7 406.4C110.7 407.9 104.0 410.7 100.0 412.3C96.0 413.9 95.0 414.4 91.0 415.9C87.0 417.4 80.7 420.0 76.3 421.1C71.9 422.2 67.8 422.5 64.6 422.5C61.4 422.5 58.5 421.3 57.3 421.1" stroke="#843C0C" stroke-width="1.45"/>
<path d="M85.2 347.4L87.2 343.4L82.8 342.4" stroke="#843C0C" stroke-width="1.45" stroke-linejoin="miter"/>
<path d="M127.5 400.7L124.0 403.5L127.5 406.3" stroke="#843C0C" stroke-width="1.45" stroke-linejoin="miter"/>
<path d="M60.8 418.5L57.0 421.0L60.3 424.1" stroke="#843C0C" stroke-width="1.45" stroke-linejoin="miter"/>
<path d="M167.2 416.7C167.0 415.5 166.2 412.4 166.3 409.3C166.4 406.2 166.8 401.2 167.9 398.3C169.0 395.4 170.8 394.8 173.1 391.7C175.4 388.6 178.2 384.9 181.9 380.0C185.6 375.1 191.2 367.1 195.0 362.0C198.8 356.9 202.7 352.2 205.0 349.5C207.3 346.8 207.4 347.2 209.0 346.0C210.6 344.8 212.7 342.9 214.3 342.0C215.9 341.1 216.7 340.8 218.7 340.6C220.7 340.4 223.2 339.9 226.1 340.8C229.0 341.7 233.1 343.7 236.3 345.8C239.5 347.9 242.9 350.7 245.5 353.5C248.1 356.3 250.5 360.0 251.8 362.5C253.1 365.0 253.4 366.6 253.3 368.7C253.2 370.8 251.9 373.5 251.0 375.0C250.1 376.5 248.9 377.0 248.1 377.8C247.2 378.6 247.9 378.2 245.9 380.0C243.9 381.8 239.0 386.5 236.3 388.8C233.6 391.1 232.6 391.9 229.7 393.9C226.8 395.8 222.5 398.5 218.7 400.5C214.9 402.5 210.9 404.0 207.0 405.7C203.1 407.4 198.9 409.0 195.0 410.5C191.1 412.0 187.7 413.4 183.3 414.5C178.9 415.6 171.1 416.5 168.7 416.9" stroke="#4472C4" stroke-width="1.45"/>
<path d="M169.3 402.3L167.9 398.0L164.1 400.4" stroke="#4472C4" stroke-width="1.45" stroke-linejoin="miter"/>
<path d="M231.2 389.8L229.5 394.0L234.0 394.6" stroke="#4472C4" stroke-width="1.45" stroke-linejoin="miter"/>
<path d="M168.7 421.8C169.2 421.2 169.5 419.4 171.6 418.1C173.7 416.8 177.8 415.5 181.0 414.0C184.2 412.5 186.4 411.7 190.7 409.3C195.0 406.9 203.3 402.1 207.0 399.8C210.7 397.5 211.0 397.2 212.9 395.4C214.8 393.6 216.5 391.4 218.7 388.8C220.9 386.2 224.9 381.5 226.1 380.0" stroke="#ED7D31" stroke-width="1.35"/>
<path d="M226.1 380.0L252.5 343.1" stroke="#ED7D31" stroke-width="1.35"/>
<path d="M252.5 343.1C252.0 345.1 250.5 351.5 249.5 355.0C248.5 358.5 248.3 360.1 246.6 364.3C244.9 368.5 241.5 374.9 239.3 380.0C237.1 385.1 235.1 390.6 233.4 394.7C231.7 398.8 230.9 402.2 229.0 404.9C227.1 407.6 225.4 409.2 221.7 410.8C218.0 412.4 211.7 413.8 207.0 414.5C202.3 415.2 197.1 415.0 193.6 415.2C190.1 415.4 187.3 415.4 186.0 415.5" stroke="#ED7D31" stroke-width="1.35"/>
<path d="M212.3 399.6L213.2 395.2L208.7 395.4" stroke="#ED7D31" stroke-width="1.35" stroke-linejoin="miter"/>
<path d="M227.2 400.9L229.0 405.0L232.6 402.3" stroke="#ED7D31" stroke-width="1.35" stroke-linejoin="miter"/>
<path d="M172.7 420.4L168.4 421.8L170.8 425.6" stroke="#ED7D31" stroke-width="1.35" stroke-linejoin="miter"/>
<path d="M168.7 409.3L188.5 380.0L205.0 354.0" stroke="#843C0C" stroke-width="1.45"/>
<path d="M205.0 354.0C205.4 353.3 206.4 351.2 207.5 349.7C208.6 348.2 209.5 346.4 211.4 345.0C213.3 343.6 216.2 341.9 218.7 341.3C221.1 340.7 223.2 340.4 226.1 341.3C229.0 342.2 233.1 344.6 236.3 346.7C239.5 348.8 242.7 351.4 245.1 354.1C247.5 356.8 249.8 360.5 251.0 362.9C252.2 365.3 252.8 366.8 252.5 368.7C252.2 370.6 251.5 372.6 249.5 374.6C247.5 376.6 244.0 378.5 240.7 380.5C237.4 382.5 234.1 383.8 229.7 386.6C225.3 389.5 218.1 394.9 214.3 397.6C210.5 400.3 210.9 400.0 207.0 402.7C203.1 405.4 195.9 410.9 190.7 413.7C185.5 416.5 179.7 418.6 176.0 419.6C172.3 420.6 170.7 419.3 168.7 419.6C166.7 419.9 164.7 422.4 164.0 421.5C163.3 420.6 164.2 416.0 164.5 414.0C164.8 412.0 165.0 410.1 165.7 409.3C166.4 408.5 168.2 409.3 168.7 409.3" stroke="#843C0C" stroke-width="1.45"/>
<path d="M230.8 382.5L229.5 386.8L234.0 387.0" stroke="#843C0C" stroke-width="1.45" stroke-linejoin="miter"/>
<path d="M170.3 417.5L166.5 420.0L169.8 423.1" stroke="#843C0C" stroke-width="1.45" stroke-linejoin="miter"/>
<path d="M271.0 422.5C271.2 420.4 272.0 415.1 272.5 410.0C273.0 404.9 273.6 397.0 274.0 392.0C274.4 387.0 274.3 383.1 274.7 380.0C275.1 376.9 275.7 375.1 276.1 373.1C276.5 371.1 275.9 370.2 276.9 368.0C277.9 365.8 279.9 362.1 282.0 359.9C284.1 357.7 286.4 356.5 289.3 354.8C292.2 353.1 295.7 351.2 299.6 349.7C303.6 348.2 308.3 346.7 313.0 346.0C317.7 345.3 322.8 345.7 327.7 345.3C332.6 344.9 337.4 344.8 342.3 343.8C347.2 342.8 354.1 339.9 357.0 339.4C359.9 338.9 359.9 339.7 359.9 340.9C359.9 342.1 357.5 345.7 357.0 346.7" stroke="#4472C4" stroke-width="1.45"/>
<path d="M357.0 346.7L346.7 357.0L327.7 374.6L315.9 384.9L276.1 418.1" stroke="#4472C4" stroke-width="1.45"/>
<path d="M279.4 371.3L276.9 367.5L273.8 370.8" stroke="#4472C4" stroke-width="1.45" stroke-linejoin="miter"/>
<path d="M312.5 383.1L311.6 387.5L316.1 387.3" stroke="#4472C4" stroke-width="1.45" stroke-linejoin="miter"/>
<path d="M276.7 413.9L275.8 418.3L280.3 418.1" stroke="#4472C4" stroke-width="1.45" stroke-linejoin="miter"/>
<path d="M273.0 420.0C273.1 417.5 273.2 409.7 273.5 405.0C273.8 400.3 274.1 395.4 274.5 392.0C274.9 388.6 274.4 388.0 276.1 384.9C277.8 381.8 281.2 377.8 284.9 373.1C288.6 368.5 294.2 361.1 298.1 357.0C302.0 352.9 305.6 350.3 308.4 348.2C311.2 346.1 313.0 345.5 315.0 344.5C317.0 343.5 317.4 343.0 320.3 342.3C323.2 341.6 329.4 340.2 332.1 340.1C334.8 340.0 334.8 340.5 336.5 341.6C338.2 342.7 340.1 343.4 342.3 346.7C344.5 350.0 347.5 356.8 349.7 361.4C351.9 366.0 354.1 371.2 355.5 374.6C356.9 378.0 357.3 379.6 358.0 382.0C358.7 384.4 359.6 386.6 359.9 388.8C360.1 391.0 360.2 392.8 359.5 395.0C358.8 397.2 358.4 400.2 355.5 402.0C352.6 403.8 346.9 404.8 342.3 405.7C337.7 406.6 332.6 406.4 327.7 407.1C322.8 407.8 318.3 408.8 313.0 410.1C307.7 411.4 301.6 413.4 296.0 415.0C290.4 416.6 281.9 418.8 279.1 419.6" stroke="#ED7D31" stroke-width="1.35"/>
<path d="M357.1 391.5L359.9 395.0L362.7 391.5" stroke="#ED7D31" stroke-width="1.35" stroke-linejoin="miter"/>
<path d="M275.0 420.8L272.8 418.0L270.6 420.8" stroke="#ED7D31" stroke-width="1.35" stroke-linejoin="miter"/>
<path d="M273.2 418.1C273.4 414.8 273.6 403.8 274.5 398.0C275.4 392.2 276.1 389.0 278.3 383.5C280.6 378.0 284.9 370.2 288.0 365.0C291.1 359.8 294.3 355.4 297.0 352.0C299.7 348.6 301.8 346.3 304.0 344.5C306.2 342.7 307.7 341.7 310.0 341.0C312.3 340.3 314.7 339.9 318.0 340.5C321.3 341.1 325.8 342.6 330.0 344.5C334.2 346.4 339.2 349.4 343.0 352.0C346.8 354.6 350.4 357.7 353.0 360.0C355.6 362.3 357.2 364.2 358.3 366.0C359.4 367.8 360.1 369.3 359.9 370.9C359.7 372.5 358.2 374.0 357.0 375.5C355.8 377.0 356.4 377.4 352.6 380.0C348.8 382.6 340.3 387.4 334.0 391.0C327.7 394.6 321.3 398.0 315.0 401.3C308.7 404.6 302.5 407.8 296.0 411.0C289.5 414.2 279.4 418.8 276.1 420.3" stroke="#843C0C" stroke-width="1.45"/>
<path d="M357.3 367.2L359.8 371.0L362.9 367.7" stroke="#843C0C" stroke-width="1.45" stroke-linejoin="miter"/>
<path d="M278.1 415.8L275.8 420.3L280.7 421.4" stroke="#843C0C" stroke-width="1.45" stroke-linejoin="miter"/>
<path d="M274.6 385.1L276.8 388.5L279.5 385.6" stroke="#843C0C" stroke-width="1.45" stroke-linejoin="miter"/>
<path d="M57.3 512.9L70.0 500.0L82.9 487.2" stroke="#4472C4" stroke-width="1.45"/>
<path d="M82.9 487.2C85.0 485.0 92.6 477.1 95.4 474.0C98.2 470.9 98.2 470.6 100.0 468.6C101.8 466.6 104.0 464.2 106.0 462.0C108.0 459.8 109.8 458.4 111.7 455.4C113.6 452.3 116.0 446.8 117.6 443.7C119.2 440.6 120.1 436.5 121.3 436.5C122.5 436.5 123.6 440.1 124.9 443.7C126.2 447.3 128.1 453.2 129.3 458.3C130.5 463.4 131.3 470.3 132.3 474.0C133.3 477.7 134.0 478.2 135.2 480.6C136.4 483.1 137.9 486.8 139.6 488.7C141.3 490.6 144.3 491.3 145.5 492.3C146.7 493.3 147.4 493.8 146.9 494.5C146.4 495.2 145.4 495.6 142.5 496.7C139.6 497.8 133.9 499.8 129.3 501.1C124.7 502.5 119.6 503.5 114.7 504.8C109.8 506.1 106.4 507.4 100.0 509.2C93.6 511.0 83.2 514.7 76.3 515.8C69.4 516.9 61.6 515.8 58.7 515.8" stroke="#4472C4" stroke-width="1.45"/>
<path d="M82.7 491.4L83.2 486.9L78.7 487.4" stroke="#4472C4" stroke-width="1.45" stroke-linejoin="miter"/>
<path d="M131.7 478.3L135.3 481.0L137.1 476.9" stroke="#4472C4" stroke-width="1.45" stroke-linejoin="miter"/>
<path d="M55.8 512.1C57.5 510.6 61.7 506.2 66.1 503.3C70.5 500.4 78.5 496.1 82.2 494.5C85.9 492.9 86.0 493.6 88.1 493.8C90.2 494.1 93.0 495.3 95.0 496.0C97.0 496.7 98.0 498.2 100.0 498.2C102.0 498.2 105.3 497.6 107.3 496.0C109.2 494.4 110.5 492.4 111.7 488.7C112.9 485.0 113.7 479.6 114.7 474.0C115.8 468.4 116.9 461.2 118.0 455.0C119.1 448.8 120.8 440.0 121.5 437.0C122.2 434.0 121.6 434.7 122.3 437.0C123.0 439.3 124.4 444.8 125.7 451.0C127.0 457.2 129.0 467.7 130.1 474.0C131.2 480.3 131.7 484.3 132.3 488.7C132.9 493.1 133.0 497.8 133.7 500.4C134.4 503.0 135.3 503.7 136.7 504.1C138.1 504.5 140.5 503.9 142.0 503.0C143.5 502.1 145.5 499.9 145.5 499.0C145.5 498.1 143.4 497.8 142.0 497.8C140.6 497.8 138.4 498.6 137.0 499.0C135.6 499.4 134.7 500.1 133.7 500.4C132.7 500.7 134.0 500.4 130.8 500.8C127.6 501.2 119.5 502.1 114.7 502.8C109.9 503.5 106.5 504.1 102.0 505.0C97.5 505.9 92.3 506.9 88.0 508.0C83.7 509.1 80.2 510.2 76.3 511.4C72.4 512.6 67.8 514.7 64.6 515.1C61.4 515.5 58.3 514.2 57.0 514.0" stroke="#ED7D31" stroke-width="1.35"/>
<path d="M79.8 498.0L82.5 494.4L78.4 492.6" stroke="#ED7D31" stroke-width="1.35" stroke-linejoin="miter"/>
<path d="M55.1 500.4C55.1 501.2 55.1 503.6 55.3 505.0C55.5 506.4 56.3 508.3 56.5 509.0" stroke="#ED7D31" stroke-width="1.35"/>
<path d="M56.5 513.6C57.8 510.8 61.7 502.8 64.0 497.0C66.3 491.2 68.5 484.1 70.5 478.9C72.5 473.7 74.2 470.1 76.3 465.7C78.4 461.3 80.9 455.9 82.9 452.5C84.9 449.1 86.3 447.1 88.1 445.1C89.9 443.1 91.6 441.8 93.9 440.7C96.2 439.6 99.0 439.1 102.0 438.5C105.0 437.9 108.9 437.6 111.7 437.1C114.5 436.6 117.4 435.7 119.1 435.6C120.8 435.5 120.8 435.5 122.0 436.3C123.2 437.1 125.1 438.8 126.4 440.7C127.7 442.6 128.8 445.1 130.0 447.5C131.2 449.9 132.1 452.6 133.7 455.4C135.3 458.2 137.6 461.1 139.6 464.2C141.6 467.3 144.0 470.6 145.5 474.0C147.0 477.4 148.4 481.4 148.4 484.3C148.4 487.2 147.4 489.5 145.5 491.6C143.6 493.7 140.6 495.0 136.7 496.7C132.8 498.4 127.8 499.9 122.0 501.9C116.2 503.9 109.6 506.2 102.0 508.5C94.4 510.8 82.3 514.5 76.3 515.8C70.3 517.1 69.3 516.6 66.1 516.5C62.9 516.4 58.8 515.3 57.3 515.1" stroke="#843C0C" stroke-width="1.45"/>
<path d="M83.6 456.8L83.0 452.3L78.8 454.0" stroke="#843C0C" stroke-width="1.45" stroke-linejoin="miter"/>
<path d="M129.6 453.9L133.8 455.6L134.4 451.1" stroke="#843C0C" stroke-width="1.45" stroke-linejoin="miter"/>
<path d="M60.8 512.5L57.0 515.0L60.3 518.1" stroke="#843C0C" stroke-width="1.45" stroke-linejoin="miter"/>
<path d="M164.4 514.9C165.5 514.2 168.3 511.6 170.8 510.6C173.3 509.6 176.8 509.6 179.3 509.0C181.8 508.4 183.6 508.2 185.7 506.9C187.8 505.6 190.6 503.6 192.1 501.0C193.6 498.4 193.8 495.6 194.6 491.4C195.4 487.2 195.8 479.8 196.7 476.0C197.6 472.2 199.1 470.2 200.0 468.5C200.9 466.8 200.5 467.0 202.0 465.5C203.5 464.0 205.7 462.2 209.0 459.5C212.3 456.8 217.1 452.6 221.7 449.5C226.2 446.4 231.7 442.9 236.3 440.7C240.9 438.5 246.9 436.9 249.5 436.2C252.1 435.5 251.3 436.5 251.7 436.6" stroke="#4472C4" stroke-width="1.45"/>
<path d="M251.7 436.6L211.7 485.0" stroke="#4472C4" stroke-width="1.45"/>
<path d="M211.7 485.0C211.1 485.7 210.5 486.8 208.0 489.0C205.5 491.2 199.2 496.3 196.7 498.4C194.2 500.5 195.1 499.9 193.2 501.5C191.2 503.1 188.7 505.9 185.0 508.0C181.3 510.1 174.3 512.5 170.8 513.8C167.3 515.0 165.1 515.2 164.0 515.5" stroke="#4472C4" stroke-width="1.45"/>
<path d="M202.0 469.5L202.2 465.0L197.8 465.9" stroke="#4472C4" stroke-width="1.45" stroke-linejoin="miter"/>
<path d="M162.8 515.9C163.4 515.4 164.6 513.6 166.5 512.7C168.4 511.8 171.0 511.7 174.0 510.6C177.0 509.5 181.8 507.6 184.7 506.3C187.5 505.1 189.5 505.1 191.1 503.1C192.7 501.1 193.0 497.6 194.5 494.1C196.0 490.7 197.8 485.9 199.9 482.4C202.0 478.8 203.7 476.7 207.3 472.8C210.9 468.9 216.9 463.4 221.7 459.1C226.5 454.9 231.3 451.0 236.3 447.3C241.3 443.6 249.1 438.5 251.7 436.7" stroke="#ED7D31" stroke-width="1.35"/>
<path d="M251.7 436.7L209.0 485.0" stroke="#ED7D31" stroke-width="1.35"/>
<path d="M209.0 485.0C208.2 485.8 205.8 488.6 204.0 490.0C202.2 491.4 200.0 492.0 198.0 493.5C196.0 495.0 193.6 497.6 192.1 498.9C190.6 500.1 190.1 500.7 188.9 501.0C187.7 501.3 186.1 501.2 184.7 500.5C183.3 499.8 181.7 498.2 180.4 496.7C179.1 495.2 177.8 492.5 176.7 491.4C175.6 490.2 174.8 489.6 174.0 489.8C173.2 490.0 172.6 490.6 171.9 492.5C171.2 494.4 170.3 497.9 169.7 501.0C169.1 504.1 168.4 509.4 168.1 511.1" stroke="#ED7D31" stroke-width="1.35"/>
<path d="M165.7 507.5L168.2 511.3L171.3 508.0" stroke="#ED7D31" stroke-width="1.35" stroke-linejoin="miter"/>
<path d="M201.2 483.0L201.0 478.5L196.7 479.8" stroke="#ED7D31" stroke-width="1.35" stroke-linejoin="miter"/>
<path d="M162.3 516.5C163.9 516.6 169.1 517.0 171.9 517.0C174.7 517.0 176.8 517.0 179.3 516.5C181.8 516.0 185.0 514.9 186.8 513.8C188.6 512.7 189.1 511.9 190.0 510.1C190.9 508.3 191.7 505.7 192.4 503.0C193.1 500.3 193.1 497.2 194.0 494.0C194.9 490.8 196.4 486.5 197.7 483.5C199.0 480.5 200.4 478.4 202.0 476.0C203.6 473.6 204.0 472.7 207.3 469.3C210.6 465.9 216.9 459.8 221.7 455.8C226.5 451.8 231.3 448.4 236.3 445.1C241.3 441.9 249.1 437.8 251.7 436.3" stroke="#843C0C" stroke-width="1.45"/>
<path d="M251.7 436.3L215.0 485.0" stroke="#843C0C" stroke-width="1.45"/>
<path d="M215.0 485.0C214.3 485.8 213.3 487.5 211.0 490.0C208.7 492.5 203.6 497.0 200.9 500.0C198.2 503.0 196.4 506.1 194.8 508.0C193.2 509.9 193.6 509.9 191.1 511.1C188.6 512.4 183.2 514.3 180.0 515.5C176.8 516.7 173.2 517.7 171.9 518.1" stroke="#843C0C" stroke-width="1.45"/>
<path d="M202.4 480.3L202.2 475.8L197.9 477.1" stroke="#843C0C" stroke-width="1.45" stroke-linejoin="miter"/>
<path d="M175.3 515.6L171.5 518.1L174.8 521.2" stroke="#843C0C" stroke-width="1.45" stroke-linejoin="miter"/>
<path d="M196.8 508.6L194.0 510.8L196.8 513.0" stroke="#843C0C" stroke-width="1.45" stroke-linejoin="miter"/>
<path d="M269.5 516.5C271.6 516.3 277.5 515.3 282.0 515.1C286.5 514.9 292.9 515.5 296.7 515.1C300.5 514.8 302.4 513.8 305.0 513.0C307.6 512.2 310.2 512.0 312.2 510.6C314.2 509.2 315.2 507.0 317.0 504.6C318.8 502.2 320.8 499.0 323.0 496.0C325.2 493.0 327.9 489.9 330.2 486.6C332.5 483.3 334.8 479.6 337.0 476.0C339.2 472.4 341.1 469.2 343.4 465.0C345.7 460.8 348.4 455.5 351.0 451.0C353.6 446.5 357.8 440.0 359.2 437.8" stroke="#ED7D31" stroke-width="1.15"/>
<path d="M359.2 437.8C358.0 439.8 354.3 445.5 352.0 450.0C349.7 454.5 347.4 460.7 345.2 465.0C343.0 469.3 341.1 472.2 339.0 476.0C336.9 479.8 334.9 484.0 332.6 487.8C330.3 491.6 327.3 495.5 325.0 499.0C322.7 502.5 320.4 506.6 319.0 509.0C317.6 511.4 317.4 512.4 316.5 513.5C315.6 514.6 315.3 514.9 313.4 515.4C311.5 515.9 307.8 516.2 305.0 516.6C302.2 517.0 300.5 518.0 296.7 518.0C292.9 518.0 286.4 517.0 282.0 516.8C277.6 516.6 272.0 516.8 270.0 516.8" stroke="#ED7D31" stroke-width="1.15"/>
<path d="M311.9 507.5L312.5 511.5L316.2 510.0" stroke="#ED7D31" stroke-width="1.35" stroke-linejoin="miter"/>
<path d="M311.1 516.1L313.3 519.5L316.0 516.6" stroke="#ED7D31" stroke-width="1.35" stroke-linejoin="miter"/>
<path d="M272.0 514.0C272.7 513.6 273.7 512.4 276.1 511.4C278.5 510.3 283.0 507.8 286.4 507.7C289.8 507.6 293.6 510.2 296.7 510.7C299.8 511.2 302.4 511.4 305.0 510.6C307.6 509.8 309.7 508.2 312.2 505.8C314.7 503.4 317.4 499.3 320.0 496.0C322.6 492.7 324.8 489.8 327.5 486.0C330.2 482.2 333.8 476.5 336.0 473.0C338.2 469.5 338.7 468.7 341.0 465.0C343.3 461.3 347.0 455.5 350.0 451.0C353.0 446.5 357.7 440.0 359.2 437.8" stroke="#4472C4" stroke-width="1.15"/>
<path d="M359.2 437.8C357.5 440.2 352.0 447.5 349.0 452.0C346.0 456.5 343.1 461.6 341.0 465.0C338.9 468.4 338.6 468.8 336.2 472.2C333.8 475.6 329.6 481.9 326.6 485.4C323.6 488.9 320.4 491.0 318.0 493.0C315.6 495.0 314.4 495.9 312.2 497.4C310.0 498.9 307.2 501.1 305.0 502.2C302.8 503.3 300.0 503.7 299.0 504.0" stroke="#4472C4" stroke-width="1.15"/>
<path d="M313.2 502.6L312.5 506.0L316.0 505.9" stroke="#4472C4" stroke-width="1.45" stroke-linejoin="miter"/>
<path d="M277.5 510.1L274.0 512.0L276.7 515.0" stroke="#4472C4" stroke-width="1.45" stroke-linejoin="miter"/>
<path d="M269.5 516.5C271.2 515.7 276.7 513.2 280.0 511.5C283.3 509.8 286.5 507.6 289.3 506.3C292.1 505.0 294.4 504.4 297.0 503.5C299.6 502.6 302.1 502.6 305.0 501.0C307.9 499.4 312.1 495.8 314.6 493.8C317.1 491.8 318.0 490.6 320.0 489.0C322.0 487.4 324.8 485.9 326.6 484.2C328.4 482.4 329.6 480.5 331.0 478.5C332.4 476.5 333.5 474.4 335.0 472.2C336.5 469.9 337.3 468.5 339.8 465.0C342.3 461.5 346.8 455.5 350.0 451.0C353.2 446.5 357.7 440.0 359.2 437.8" stroke="#843C0C" stroke-width="1.25"/>
<path d="M359.2 437.8C357.3 440.5 351.2 449.5 348.0 454.0C344.8 458.5 342.3 461.3 339.8 465.0C337.3 468.7 334.8 472.8 333.0 476.0C331.2 479.2 331.2 481.0 329.0 484.2C326.8 487.4 322.8 491.8 320.0 495.0C317.2 498.2 314.7 501.3 312.2 503.4C309.7 505.5 307.6 506.6 305.0 507.6C302.4 508.6 299.9 508.6 296.7 509.2C293.5 509.8 289.4 510.3 286.0 511.0C282.6 511.7 278.9 512.7 276.1 513.6C273.4 514.5 270.6 516.0 269.5 516.5" stroke="#843C0C" stroke-width="1.25"/>
<path d="M313.5 497.9L314.8 493.6L310.3 493.4" stroke="#843C0C" stroke-width="1.45" stroke-linejoin="miter"/>
<path d="M312.5 499.1L312.3 503.6L316.7 502.7" stroke="#843C0C" stroke-width="1.45" stroke-linejoin="miter"/>
<path d="M273.6 515.2L269.3 516.6L271.7 520.4" stroke="#843C0C" stroke-width="1.45" stroke-linejoin="miter"/>
<path d="M55.8 593.5C56.0 592.3 56.6 588.7 57.3 586.1C58.0 583.5 59.0 580.0 59.8 578.0C60.5 576.0 60.9 576.4 61.8 573.9C62.7 571.4 64.1 566.4 65.3 563.0C66.5 559.6 66.9 557.1 68.7 553.3C70.5 549.5 73.5 543.5 76.0 540.1C78.5 536.7 81.2 534.0 83.7 532.8C86.2 531.6 88.3 532.4 91.0 532.8C93.7 533.2 94.8 533.0 100.0 535.0C105.2 537.0 115.9 541.2 122.0 544.5C128.1 547.8 132.9 552.2 136.7 554.8C140.5 557.4 143.0 558.6 144.7 559.9C146.4 561.1 147.5 561.1 146.9 562.3C146.3 563.5 142.8 565.8 141.0 567.0C139.2 568.2 138.3 568.3 136.3 569.5C134.3 570.7 131.6 573.2 128.9 574.2C126.2 575.2 123.1 575.4 120.0 575.5C116.9 575.6 113.6 574.3 110.3 575.1C107.0 575.9 104.4 578.2 100.0 580.3C95.6 582.4 88.9 584.9 83.7 587.6C78.5 590.3 72.7 593.7 69.0 596.4C65.3 599.1 63.4 601.6 61.7 603.7C60.0 605.8 59.5 608.1 59.0 609.0" stroke="#A5A5A5" stroke-width="1.4"/>
<path d="M140.0 560.0L144.5 559.8L143.2 555.5" stroke="#A5A5A5" stroke-width="1.45" stroke-linejoin="miter"/>
<path d="M113.8 572.6L110.0 575.1L113.3 578.2" stroke="#A5A5A5" stroke-width="1.45" stroke-linejoin="miter"/>
<path d="M56.0 610.0C56.5 607.8 57.9 601.2 59.0 597.0C60.1 592.8 61.3 589.2 62.5 585.0C63.7 580.8 64.6 576.9 66.0 572.0C67.4 567.1 69.0 560.9 71.0 555.5C73.0 550.1 76.1 543.2 78.3 539.5C80.5 535.8 82.0 534.2 84.0 533.5C86.0 532.8 88.2 533.8 90.5 535.0C92.8 536.2 95.9 539.6 97.8 541.0C99.7 542.4 98.6 541.1 102.0 543.5C105.4 545.9 113.4 551.1 118.2 555.5C123.0 559.9 126.5 564.9 131.0 570.0C135.4 575.1 142.4 582.3 144.9 585.9C147.4 589.5 146.6 589.6 146.0 591.5C145.4 593.4 144.3 596.3 141.5 597.5C138.7 598.7 132.6 598.2 129.3 598.8C126.1 599.4 125.2 600.0 122.0 601.0C118.8 602.0 113.6 603.9 110.3 604.7C107.0 605.5 106.4 605.5 102.0 606.0C97.6 606.5 90.7 607.2 83.7 608.0C76.7 608.8 64.0 610.5 60.0 611.0" stroke="#4472C4" stroke-width="1.45"/>
<path d="M140.9 585.2L145.2 586.5L145.4 582.0" stroke="#4472C4" stroke-width="1.45" stroke-linejoin="miter"/>
<path d="M56.5 589.8C56.9 588.5 57.9 584.6 59.0 582.0C60.1 579.4 61.9 577.0 63.1 573.9C64.3 570.8 65.3 566.9 66.5 563.5C67.7 560.1 68.9 556.7 70.3 553.3C71.7 549.9 73.3 546.0 74.8 543.0C76.3 540.0 77.8 537.5 79.3 535.5C80.8 533.5 81.8 532.2 83.7 531.3C85.7 530.4 88.3 530.3 91.0 529.9C93.7 529.5 94.8 529.1 100.0 529.1C105.2 529.1 115.9 529.3 122.0 529.9C128.1 530.5 133.1 531.6 136.7 532.8C140.2 534.0 141.6 535.5 143.3 537.2C145.0 538.9 146.1 540.4 146.9 543.1C147.8 545.8 148.4 550.1 148.4 553.3C148.4 556.5 147.6 559.8 146.9 562.1C146.2 564.4 145.2 565.0 144.5 567.0C143.8 569.0 144.1 571.4 142.5 573.9C140.9 576.4 137.1 578.7 135.2 581.7C133.2 584.7 132.5 589.1 130.8 592.0C129.1 594.9 127.6 597.7 124.9 599.3C122.2 600.9 118.9 600.6 114.7 601.5C110.5 602.4 105.2 603.5 100.0 604.5C94.8 605.5 89.6 606.3 83.7 607.4C77.8 608.5 68.5 610.3 64.6 611.1C60.6 611.9 60.8 611.9 60.0 612.0" stroke="#ED7D31" stroke-width="1.35"/>
<path d="M139.0 537.3L143.5 537.5L142.6 533.1" stroke="#ED7D31" stroke-width="1.35" stroke-linejoin="miter"/>
<path d="M129.8 588.1L130.8 592.5L134.8 590.5" stroke="#ED7D31" stroke-width="1.35" stroke-linejoin="miter"/>
<path d="M59.3 608.7L60.5 612.5L63.9 610.4" stroke="#ED7D31" stroke-width="1.35" stroke-linejoin="miter"/>
<path d="M58.0 608.0C58.5 605.3 59.8 597.5 61.0 592.0C62.2 586.5 63.9 581.0 65.5 575.0C67.1 569.0 68.6 561.7 70.5 556.0C72.4 550.3 74.8 545.0 77.0 541.0C79.2 537.0 82.2 533.6 84.0 532.0C85.8 530.4 85.4 531.3 88.1 531.3C90.8 531.3 94.3 530.6 100.0 531.8C105.7 533.0 115.9 536.1 122.0 538.7C128.1 541.3 133.0 545.2 136.7 547.5C140.4 549.8 142.2 551.3 144.0 552.6C145.8 553.9 146.5 554.1 147.2 555.5C147.9 556.9 148.6 558.8 148.4 561.0C148.2 563.2 147.1 566.6 146.0 569.0C144.9 571.4 143.1 573.8 141.7 575.3C140.3 576.8 138.8 578.1 137.4 578.3C136.0 578.5 134.2 577.0 133.0 576.5C131.8 576.0 131.1 575.0 129.9 575.5C128.7 576.0 126.9 577.9 125.7 579.5C124.5 581.1 124.3 583.1 122.5 584.9C120.7 586.7 118.8 588.0 115.0 590.2C111.2 592.4 105.2 595.9 100.0 597.9C94.8 599.9 89.6 600.3 83.7 602.3C77.8 604.2 69.0 608.0 64.6 609.6C60.1 611.2 58.3 611.6 57.0 612.0" stroke="#843C0C" stroke-width="1.4"/>
<path d="M139.7 553.0L144.2 552.8L142.9 548.5" stroke="#843C0C" stroke-width="1.45" stroke-linejoin="miter"/>
<path d="M122.7 580.7L122.5 585.2L126.9 584.3" stroke="#843C0C" stroke-width="1.45" stroke-linejoin="miter"/>
<path d="M55.7 605.4L57.5 609.5L61.1 606.8" stroke="#843C0C" stroke-width="1.45" stroke-linejoin="miter"/>
<path d="M58.0 609.6C58.3 607.8 59.4 602.4 60.0 599.0C60.6 595.6 61.0 593.3 61.9 589.1C62.8 584.9 64.3 578.2 65.5 573.9C66.7 569.5 67.7 566.4 68.8 563.0C69.9 559.6 70.3 557.6 72.1 553.3C73.8 549.0 77.1 540.6 79.3 537.2C81.5 533.8 83.1 533.3 85.1 532.8C87.0 532.3 88.8 533.1 91.0 534.3C93.2 535.5 96.5 538.8 98.3 540.1C100.1 541.4 99.3 540.1 102.0 542.3C104.7 544.5 110.2 548.5 114.7 553.3C119.2 558.1 124.5 564.8 129.3 570.9C134.2 577.0 141.1 586.6 143.8 590.2C146.5 593.8 146.0 591.4 145.5 592.5C145.0 593.6 143.7 596.1 141.0 597.1C138.3 598.1 132.5 598.0 129.3 598.6C126.1 599.2 125.2 599.8 122.0 600.8C118.8 601.8 113.6 603.6 110.3 604.5C107.0 605.4 106.4 605.3 102.0 605.9C97.6 606.5 90.4 607.0 83.7 608.0C77.0 609.0 65.4 611.2 61.7 611.8" stroke="#FFC000" stroke-width="1.6"/>
<path d="M139.5 589.2L143.8 590.5L144.0 586.0" stroke="#FFC000" stroke-width="1.65" stroke-linejoin="miter"/>
<path d="M114.0 602.4L110.0 604.5L113.0 607.8" stroke="#FFC000" stroke-width="1.65" stroke-linejoin="miter"/>
<path d="M165.7 603.7C166.2 602.2 167.0 598.6 168.7 594.9C170.4 591.2 173.3 585.9 176.0 581.7C178.7 577.6 181.5 575.0 184.8 570.0C188.1 565.0 192.0 558.1 196.0 552.0C200.0 545.9 206.8 536.6 209.0 533.5" stroke="#A5A5A5" stroke-width="1.3"/>
<path d="M209.0 533.5C209.4 533.4 210.3 533.2 211.4 533.0C212.5 532.8 214.6 532.1 215.8 532.1C217.0 532.1 217.7 531.8 218.8 532.8C219.9 533.8 221.3 535.7 222.5 537.8C223.7 539.9 224.9 542.4 225.9 545.6C226.9 548.8 227.4 553.5 228.7 556.8C229.9 560.1 231.5 562.7 233.4 565.2C235.3 567.7 237.6 569.8 239.9 571.7C242.2 573.6 245.5 575.1 247.4 576.4C249.3 577.7 251.1 578.6 251.5 579.5C251.9 580.4 250.4 581.1 249.6 581.5C248.8 581.9 248.3 581.9 246.6 581.7C244.9 581.5 241.5 581.3 239.3 580.3C237.1 579.3 235.7 577.5 233.4 575.9C231.1 574.3 228.0 571.8 225.6 570.6C223.2 569.5 221.2 569.3 219.2 569.0C217.2 568.7 215.1 568.2 213.6 569.0C212.1 569.8 211.4 571.5 210.0 574.0C208.6 576.5 207.0 581.0 205.0 584.0C203.0 587.0 200.3 589.2 198.0 592.0C195.7 594.8 193.0 598.8 191.0 601.0C189.0 603.2 187.3 604.5 186.0 605.2C184.7 605.9 185.0 605.6 183.3 605.2C181.6 604.8 177.9 603.7 176.0 603.0C174.1 602.3 173.1 600.9 171.6 600.8C170.1 600.7 168.2 601.8 167.2 602.3C166.2 602.8 165.9 603.7 165.7 604.0" stroke="#A5A5A5" stroke-width="1.3"/>
<path d="M209.3 537.1L212.0 533.5L207.9 531.7" stroke="#A5A5A5" stroke-width="1.45" stroke-linejoin="miter"/>
<path d="M216.8 566.4L213.3 569.2L216.8 572.0" stroke="#A5A5A5" stroke-width="1.45" stroke-linejoin="miter"/>
<path d="M165.7 608.1C166.2 607.9 166.5 607.2 168.7 606.7C170.9 606.2 176.0 606.2 178.9 605.2C181.8 604.2 183.6 603.5 186.3 600.8C189.0 598.1 191.9 594.2 195.1 589.1C198.3 584.0 202.9 574.1 205.3 570.0C207.7 565.9 208.1 566.0 209.6 564.2C211.1 562.4 213.0 561.1 214.3 559.2C215.6 557.3 216.3 555.1 217.5 552.8C218.7 550.5 220.1 547.0 221.3 545.3C222.6 543.6 223.8 543.0 225.0 542.8C226.2 542.6 227.3 543.1 228.8 544.0C230.3 544.9 232.1 547.4 233.8 548.4C235.5 549.4 236.9 550.2 238.8 549.7C240.7 549.2 243.2 546.9 245.1 545.3C247.0 543.7 248.9 542.0 250.1 540.3C251.2 538.6 252.0 536.5 252.0 535.3C252.0 534.0 252.1 533.3 250.1 532.8C248.1 532.3 243.9 532.4 240.1 532.5C236.3 532.6 231.7 532.7 227.5 533.2C223.3 533.7 218.1 535.1 215.0 535.5C211.9 535.9 211.8 535.7 209.0 535.5C206.2 535.3 202.3 534.5 198.0 534.3C193.7 534.1 187.0 533.8 183.3 534.3C179.6 534.8 177.9 536.2 176.0 537.6C174.1 539.0 173.1 540.1 172.0 542.5C170.9 544.9 170.2 548.2 169.5 552.0C168.8 555.8 168.4 559.5 167.8 565.0C167.2 570.5 166.6 579.2 166.2 585.0C165.8 590.8 165.3 596.5 165.2 600.0C165.1 603.5 165.4 605.0 165.5 606.0" stroke="#4472C4" stroke-width="1.45"/>
<path d="M214.3 563.5L214.5 559.0L210.1 559.9" stroke="#4472C4" stroke-width="1.45" stroke-linejoin="miter"/>
<path d="M164.3 603.7C164.8 602.5 166.0 599.1 167.2 596.4C168.4 593.7 170.4 589.5 171.6 587.5C172.8 585.5 172.3 586.4 174.5 584.7C176.7 583.0 181.3 580.0 185.0 577.5C188.7 575.0 192.5 572.8 196.5 570.0C200.5 567.2 205.8 562.7 209.0 560.7C212.2 558.7 214.0 559.4 216.0 557.8C218.0 556.2 219.2 554.3 221.0 551.0C222.8 547.7 225.1 540.9 227.0 538.0C228.9 535.1 230.9 534.2 232.5 533.6C234.1 533.0 234.8 533.4 236.5 534.5C238.2 535.6 240.6 537.5 242.5 540.0C244.4 542.5 246.1 546.1 247.8 549.3C249.6 552.5 252.0 556.1 253.0 559.0C254.0 561.9 254.3 564.2 253.9 566.5C253.5 568.8 252.5 571.1 250.8 572.6C249.2 574.1 246.8 574.8 244.0 575.4C241.2 576.0 237.0 576.6 234.3 576.4C231.6 576.2 229.7 574.2 228.0 574.0C226.3 573.8 225.4 574.2 224.0 575.0C222.6 575.8 220.8 577.5 219.5 579.0C218.2 580.5 217.3 582.5 216.5 584.0C215.7 585.5 216.1 586.6 214.4 588.2C212.7 589.8 209.1 591.9 206.4 593.8C203.7 595.7 200.6 597.9 198.0 599.5C195.4 601.1 194.0 602.2 190.7 603.7C187.4 605.2 181.8 607.2 178.0 608.5C174.2 609.8 169.7 611.0 168.0 611.5" stroke="#ED7D31" stroke-width="1.35"/>
<path d="M172.4 591.5L171.8 587.0L167.6 588.7" stroke="#ED7D31" stroke-width="1.35" stroke-linejoin="miter"/>
<path d="M213.2 584.2L214.2 588.6L218.2 586.6" stroke="#ED7D31" stroke-width="1.35" stroke-linejoin="miter"/>
<path d="M164.3 605.2C164.4 602.7 164.6 595.2 165.0 590.0C165.4 584.8 165.9 579.5 166.5 573.9C167.1 568.3 167.8 561.4 168.7 556.3C169.5 551.2 170.4 546.2 171.6 543.1C172.8 540.0 174.1 539.0 176.0 537.9C177.9 536.8 180.6 536.5 183.3 536.5C186.0 536.5 189.2 537.2 192.1 537.9C195.0 538.6 198.1 539.9 200.9 540.9C203.7 541.9 206.7 543.1 209.0 543.8C211.3 544.5 212.3 544.9 215.0 545.3C217.7 545.6 221.9 546.0 225.0 545.9C228.1 545.8 230.7 546.1 233.8 544.7C236.9 543.4 240.9 539.9 243.8 537.8C246.7 535.7 250.0 532.7 251.3 532.1C252.7 531.5 252.5 532.9 251.9 534.3C251.3 535.7 249.6 537.4 247.6 540.3C245.6 543.2 242.2 548.3 240.1 551.6C238.0 554.9 236.9 556.9 235.0 560.0C233.1 563.1 231.2 567.1 228.8 570.0C226.4 572.9 223.3 575.6 220.8 577.5C218.3 579.4 215.9 579.7 213.6 581.5C211.3 583.3 209.3 586.2 207.0 588.3C204.7 590.4 202.2 591.8 200.0 594.0C197.8 596.2 196.8 599.1 194.0 601.5C191.2 603.9 187.5 606.5 183.3 608.1C179.1 609.7 171.8 610.6 168.7 611.1C165.6 611.6 165.6 611.0 165.0 611.0" stroke="#843C0C" stroke-width="1.5"/>
<path d="M208.2 547.0L212.0 544.5L208.7 541.4" stroke="#843C0C" stroke-width="1.45" stroke-linejoin="miter"/>
<path d="M213.0 576.8L213.6 581.3L217.8 579.6" stroke="#843C0C" stroke-width="1.45" stroke-linejoin="miter"/>
<path d="M165.0 611.1C165.2 608.4 165.9 601.9 166.5 595.0C167.1 588.1 168.1 575.7 168.7 570.0C169.3 564.3 169.4 562.9 170.1 561.0C170.8 559.1 171.4 559.4 173.1 558.5C174.8 557.6 177.5 556.1 180.4 555.5C183.3 554.9 185.9 554.5 190.7 554.8C195.5 555.0 205.1 556.9 209.0 557.0C212.9 557.1 212.8 556.4 214.3 555.5C215.8 554.6 216.6 553.4 218.0 551.5C219.4 549.6 220.9 546.6 222.5 544.0C224.1 541.4 225.8 537.8 227.5 535.9C229.2 534.0 231.0 533.2 232.5 532.8C234.0 532.4 234.8 532.4 236.3 533.4C237.8 534.4 239.6 536.6 241.3 539.0C243.0 541.4 244.7 544.5 246.3 547.8C247.9 551.1 250.1 555.7 251.1 558.7C252.1 561.8 252.4 564.1 252.1 566.1C251.8 568.1 250.7 569.6 249.3 570.8C247.9 572.0 246.2 572.5 243.7 573.1C241.2 573.7 237.4 574.3 234.3 574.5C231.2 574.7 228.1 574.3 225.0 574.2C221.9 574.1 217.8 573.7 216.0 573.8C214.2 573.9 215.7 573.3 214.4 574.6C213.1 575.9 210.1 579.6 208.0 581.8C205.9 584.0 203.7 585.6 202.0 588.0C200.3 590.4 199.9 593.5 198.0 596.4C196.1 599.3 193.9 602.9 190.7 605.2C187.5 607.5 182.6 609.1 178.9 610.3C175.2 611.5 170.4 612.1 168.7 612.5" stroke="#FFC000" stroke-width="1.65"/>
<path d="M174.0 563.2L173.0 558.8L169.0 560.8" stroke="#FFC000" stroke-width="1.65" stroke-linejoin="miter"/>
<path d="M218.1 572.1L214.3 574.6L217.6 577.7" stroke="#FFC000" stroke-width="1.65" stroke-linejoin="miter"/>
<path d="M269.3 572.4C269.3 568.7 269.1 556.1 269.2 550.0C269.2 543.9 269.4 539.0 269.6 536.0C269.8 533.0 269.9 531.8 270.2 532.1C270.5 532.4 270.8 534.7 271.2 538.0C271.6 541.3 271.9 546.0 272.5 552.0C273.1 558.0 274.1 568.1 274.7 573.9C275.3 579.7 275.4 582.4 276.1 587.0C276.8 591.6 278.1 598.5 279.1 601.7C280.1 604.9 280.5 604.9 282.0 606.1C283.5 607.3 286.4 609.0 287.9 609.0C289.4 609.0 289.8 608.1 290.8 606.1C291.8 604.1 292.7 599.8 293.7 597.3C294.7 594.8 295.5 592.4 296.7 591.4C297.9 590.4 299.6 590.4 301.1 591.4C302.6 592.4 304.0 595.6 305.5 597.3C307.0 599.0 308.3 601.2 309.9 601.7C311.5 602.2 312.0 600.6 315.0 600.5C318.0 600.4 323.4 600.8 328.0 601.0C332.6 601.2 338.7 603.1 342.3 601.7C345.9 600.4 347.0 597.1 349.7 592.9C352.4 588.7 358.5 577.2 358.5 576.7C358.5 576.2 352.4 586.2 349.7 589.9C347.0 593.6 344.8 598.2 342.3 598.7C339.9 599.2 336.9 594.5 335.0 593.0C333.1 591.5 332.6 591.0 330.6 590.0C328.7 589.0 325.8 587.8 323.3 587.0C320.9 586.2 317.1 585.8 315.9 585.5" stroke="#A5A5A5" stroke-width="1.4"/>
<path d="M269.5 611.9C271.6 611.9 277.5 612.4 282.0 611.9C286.5 611.4 292.4 609.7 296.7 609.0C301.0 608.3 304.9 607.9 308.0 607.5C311.1 607.1 312.9 607.0 315.0 606.8C317.1 606.6 318.2 605.7 320.3 606.1C322.4 606.5 325.2 608.0 327.7 609.0C330.1 610.0 333.1 611.6 335.0 611.9C336.9 612.1 338.2 611.5 339.4 610.5C340.6 609.5 341.3 608.8 342.3 606.1C343.3 603.4 344.3 598.3 345.3 594.3C346.3 590.3 347.5 585.7 348.5 582.0C349.5 578.3 350.4 575.1 351.1 572.3C351.8 569.5 351.9 569.0 352.6 565.0C353.3 561.0 354.7 553.7 355.5 548.0C356.3 542.3 357.4 531.5 357.5 531.0C357.6 530.5 356.5 539.3 356.0 545.0C355.5 550.7 355.2 558.8 354.5 565.0C353.8 571.2 353.1 577.2 352.0 582.0C350.9 586.8 349.8 591.5 348.0 594.0C346.2 596.5 343.2 596.7 341.0 597.0C338.8 597.3 337.2 596.0 335.0 595.8C332.8 595.6 330.2 595.3 327.7 595.8C325.2 596.3 322.6 597.8 320.0 599.0C317.4 600.2 315.3 601.8 312.0 603.0C308.7 604.2 304.5 605.2 300.0 606.0C295.5 606.8 289.7 607.3 285.0 608.0C280.3 608.7 274.2 609.7 272.0 610.0" stroke="#ED7D31" stroke-width="1.35"/>
<path d="M321.7 595.9L319.6 599.3L323.4 600.5" stroke="#ED7D31" stroke-width="1.35" stroke-linejoin="miter"/>
<path d="M269.5 600.9C270.4 601.5 272.6 603.5 274.7 604.6C276.8 605.7 279.6 607.8 282.0 607.5C284.4 607.2 286.9 603.6 289.3 603.1C291.8 602.6 294.2 604.6 296.7 604.6C299.1 604.6 300.9 603.6 304.0 603.1C307.1 602.6 311.0 602.1 315.0 601.7C319.0 601.4 323.8 601.4 328.0 601.0C332.2 600.6 337.2 600.7 340.0 599.5C342.8 598.3 343.7 597.2 345.0 594.0C346.3 590.8 347.1 584.8 348.0 580.0C348.9 575.2 349.6 570.3 350.5 565.0C351.4 559.7 352.7 553.2 353.5 548.0C354.3 542.8 355.7 533.5 355.5 533.5C355.3 533.5 353.5 544.0 352.5 548.0C351.5 552.0 350.5 554.5 349.7 557.7C348.9 560.9 348.2 564.9 347.5 567.0C346.8 569.1 346.2 569.6 345.3 570.5C344.4 571.4 344.0 572.5 342.3 572.3C340.6 572.1 337.4 569.6 335.0 569.4C332.6 569.2 330.1 569.8 327.7 570.9C325.2 572.0 322.4 574.4 320.3 576.0C318.2 577.6 316.9 578.7 315.0 580.5C313.1 582.3 310.8 584.7 309.0 587.0C307.2 589.3 305.8 592.1 304.0 594.3C302.2 596.5 300.3 598.7 298.0 600.0C295.7 601.3 292.7 601.2 290.0 602.0C287.3 602.8 284.5 604.3 282.0 604.5C279.5 604.7 277.0 603.4 275.0 603.0C273.0 602.6 270.8 602.2 270.0 602.0" stroke="#4472C4" stroke-width="1.45"/>
<path d="M322.4 572.4L320.0 576.2L324.3 577.6" stroke="#4472C4" stroke-width="1.45" stroke-linejoin="miter"/>
<path d="M269.5 611.9C272.1 611.4 279.9 610.0 285.0 609.0C290.1 608.0 295.3 607.0 300.0 606.0C304.7 605.0 308.4 603.8 313.0 603.1C317.6 602.4 323.5 602.2 327.7 601.7C331.9 601.2 335.6 600.9 338.0 600.2C340.4 599.5 341.1 598.8 342.3 597.3C343.5 595.8 344.3 592.7 345.0 591.0C345.7 589.3 346.0 589.7 346.7 587.0C347.4 584.3 348.3 578.7 349.0 575.0C349.7 571.3 350.2 569.5 351.1 565.0C352.0 560.5 353.4 553.2 354.5 548.0C355.6 542.8 356.8 536.8 357.5 534.0C358.2 531.2 358.7 532.1 358.5 531.3C358.3 530.5 357.2 529.7 356.5 529.4C355.8 529.1 355.5 529.0 354.1 529.6C352.7 530.2 350.6 531.0 348.2 532.8C345.8 534.5 342.3 536.9 339.4 540.1C336.5 543.3 333.5 548.0 330.6 551.9C327.7 555.8 323.8 559.9 321.8 563.6C319.9 567.3 319.9 570.2 318.9 573.9C317.8 577.6 317.0 583.5 315.5 586.0C314.0 588.5 311.8 588.8 309.9 589.2C308.0 589.6 305.5 588.4 304.0 588.5C302.5 588.6 302.1 588.8 301.1 590.0C300.1 591.2 298.7 594.3 298.0 596.0C297.3 597.7 298.1 598.4 296.7 600.2C295.2 602.0 292.1 605.4 289.3 606.8C286.5 608.2 282.4 608.1 280.0 608.5C277.6 608.9 276.4 609.4 274.7 609.0C272.9 608.6 270.4 606.6 269.5 606.1" stroke="#843C0C" stroke-width="1.4"/>
<path d="M350.4 529.1L348.0 532.9L352.3 534.3" stroke="#843C0C" stroke-width="1.45" stroke-linejoin="miter"/>
<path d="M272.8 604.1L269.3 606.0L272.0 609.0" stroke="#843C0C" stroke-width="1.45" stroke-linejoin="miter"/>
<path d="M357.5 531.0C357.1 532.5 355.8 537.5 355.0 540.0C354.2 542.5 354.0 542.3 352.6 546.0C351.2 549.7 348.2 558.7 346.7 562.1C345.2 565.5 345.0 566.0 343.8 566.5C342.6 567.0 340.9 566.8 339.4 565.1C337.9 563.4 336.5 558.6 335.0 556.3C333.5 554.0 332.0 551.6 330.6 551.1C329.2 550.6 327.5 552.4 326.5 553.5C325.5 554.6 325.5 556.0 324.7 557.7C323.9 559.5 322.5 561.8 321.5 564.0C320.5 566.2 320.0 568.3 318.9 570.9C317.8 573.5 316.5 576.8 315.0 579.7C313.5 582.6 311.7 586.1 309.9 588.5C308.1 590.9 305.5 592.1 304.0 594.3C302.5 596.5 302.3 600.2 301.1 601.7C299.9 603.2 298.7 603.7 296.7 603.1C294.7 602.5 292.2 599.1 289.3 598.0C286.4 596.9 281.5 596.4 279.1 596.5C276.7 596.6 275.9 599.8 274.7 598.7C273.5 597.6 272.6 591.7 271.7 589.9C270.8 588.1 269.9 588.1 269.5 587.7" stroke="#FFC000" stroke-width="1.6"/>
<path d="M272.5 616.3C272.6 614.9 272.6 610.5 273.0 608.0C273.4 605.5 273.8 602.8 275.0 601.0C276.2 599.2 277.5 597.8 280.0 597.0C282.5 596.2 286.7 596.5 290.0 596.0C293.3 595.5 297.0 595.2 300.0 594.0C303.0 592.8 305.4 590.2 308.0 589.0C310.6 587.8 312.6 587.1 315.9 587.0C319.2 586.9 324.5 587.3 327.7 588.5C330.9 589.7 333.2 593.3 335.0 594.3C336.8 595.3 337.5 595.3 338.7 594.3C339.9 593.3 341.0 591.4 342.3 588.5C343.6 585.6 345.2 580.6 346.7 576.7C348.2 572.8 349.9 569.5 351.1 565.0C352.3 560.5 352.9 555.7 354.0 550.0C355.1 544.3 356.9 534.2 357.5 531.0" stroke="#FFC000" stroke-width="1.6"/>
<path d="M317.6 566.7L319.0 571.0L322.8 568.6" stroke="#FFC000" stroke-width="1.65" stroke-linejoin="miter"/>
<path d="M313.0 589.8L316.5 587.0L313.0 584.2" stroke="#FFC000" stroke-width="1.65" stroke-linejoin="miter"/>
</g>
<line x1="47.3" y1="19.4" x2="47.3" y2="306.2" stroke="#7a7a7a" stroke-width="1.9"/>
<line x1="154" y1="19.4" x2="154" y2="306.2" stroke="#7a7a7a" stroke-width="1.9"/>
<line x1="260.7" y1="19.4" x2="260.7" y2="306.2" stroke="#7a7a7a" stroke-width="1.9"/>
<line x1="367.4" y1="19.4" x2="367.4" y2="306.2" stroke="#7a7a7a" stroke-width="1.9"/>
<line x1="46.4" y1="20.2" x2="368.29999999999995" y2="20.2" stroke="#6a6a6a" stroke-width="1.6"/>
<line x1="46.4" y1="305.4" x2="368.29999999999995" y2="305.4" stroke="#4a4a4a" stroke-width="1.4"/>
<line x1="47.3" y1="115.4" x2="367.4" y2="115.4" stroke="#333" stroke-width="1.2"/>
<line x1="47.3" y1="210.4" x2="367.4" y2="210.4" stroke="#333" stroke-width="1.2"/>
<line x1="47.3" y1="334.2" x2="47.3" y2="620.8" stroke="#7a7a7a" stroke-width="1.9"/>
<line x1="154" y1="334.2" x2="154" y2="620.8" stroke="#7a7a7a" stroke-width="1.9"/>
<line x1="260.7" y1="334.2" x2="260.7" y2="620.8" stroke="#7a7a7a" stroke-width="1.9"/>
<line x1="367.4" y1="334.2" x2="367.4" y2="620.8" stroke="#7a7a7a" stroke-width="1.9"/>
<line x1="46.4" y1="335.0" x2="368.29999999999995" y2="335.0" stroke="#6a6a6a" stroke-width="1.6"/>
<line x1="46.4" y1="620.0" x2="368.29999999999995" y2="620.0" stroke="#4a4a4a" stroke-width="1.4"/>
<line x1="47.3" y1="429.6" x2="367.4" y2="429.6" stroke="#333" stroke-width="1.2"/>
<line x1="47.3" y1="524.4" x2="367.4" y2="524.4" stroke="#333" stroke-width="1.2"/>
<text transform="translate(85.38 17.90) scale(1.026 1)" font-family="Liberation Sans" font-weight="bold" font-size="13.24" fill="#000">MHW</text>
<text transform="translate(191.37 17.90) scale(1.042 1)" font-family="Liberation Sans" font-weight="bold" font-size="13.24" fill="#000">MMD</text>
<text transform="translate(299.93 17.77) scale(0.996 1)" font-family="Liberation Sans" font-weight="bold" font-size="12.86" fill="#000">MOL</text>
<text transform="translate(83.46 331.90) scale(0.938 1)" font-family="Liberation Sans" font-weight="bold" font-size="13.24" fill="#000">RHW</text>
<text transform="translate(188.94 331.90) scale(0.965 1)" font-family="Liberation Sans" font-weight="bold" font-size="13.24" fill="#000">RMD</text>
<text transform="translate(304.35 331.17) scale(0.875 1)" font-family="Liberation Sans" font-weight="bold" font-size="12.72" fill="#000">ROL</text>
<text transform="translate(39.47 79.26) rotate(-90) scale(0.993 1)" font-family="Liberation Sans" font-weight="bold" font-size="13.14" fill="#000">2014</text>
<text transform="translate(39.46 175.56) rotate(-90) scale(0.976 1)" font-family="Liberation Sans" font-weight="bold" font-size="13.57" fill="#000">2015</text>
<text transform="translate(39.46 275.06) rotate(-90) scale(0.977 1)" font-family="Liberation Sans" font-weight="bold" font-size="13.57" fill="#000">2018</text>
<text transform="translate(41.96 395.66) rotate(-90) scale(0.966 1)" font-family="Liberation Sans" font-weight="bold" font-size="13.57" fill="#000">2014</text>
<text transform="translate(41.87 487.46) rotate(-90) scale(0.969 1)" font-family="Liberation Sans" font-weight="bold" font-size="13.43" fill="#000">2015</text>
<text transform="translate(41.87 583.76) rotate(-90) scale(0.987 1)" font-family="Liberation Sans" font-weight="bold" font-size="13.43" fill="#000">2018</text>
<text transform="translate(14.3 410.6) rotate(-90)" font-family="Liberation Sans" font-size="20" fill="#000" stroke="#000" stroke-width="0.25">Water Concentration</text>
<text x="156.83" y="668.9" font-family="Liberation Sans" font-size="19" fill="#000" stroke="#000" stroke-width="0.3">D</text>
<text transform="translate(170.55 668.9) scale(1 1.09)" font-family="Liberation Sans" font-size="19" fill="#000" stroke="#000" stroke-width="0.3">ischarge</text>
<path d="M89 632.3H107.9" stroke="#4472C4" stroke-width="1.6" fill="none"/><path d="M101.2 626.8L108.7 632.3L101.2 637.8" stroke="#4472C4" stroke-width="1.6" fill="none" stroke-linejoin="miter"/>
<path d="M138.4 632.3H155.89999999999998" stroke="#ED7D31" stroke-width="1.6" fill="none"/><path d="M149.2 626.8L156.7 632.3L149.2 637.8" stroke="#ED7D31" stroke-width="1.6" fill="none" stroke-linejoin="miter"/>
<path d="M194.7 632.3H213.5" stroke="#843C0C" stroke-width="1.6" fill="none"/><path d="M206.8 626.8L214.3 632.3L206.8 637.8" stroke="#843C0C" stroke-width="1.6" fill="none" stroke-linejoin="miter"/>
<path d="M234.2 632.3H252.7" stroke="#A5A5A5" stroke-width="1.6" fill="none"/><path d="M246.0 626.8L253.5 632.3L246.0 637.8" stroke="#A5A5A5" stroke-width="1.6" fill="none" stroke-linejoin="miter"/>
<path d="M282.4 632.3H301.5" stroke="#FFC000" stroke-width="1.6" fill="none"/><path d="M294.8 626.8L302.3 632.3L294.8 637.8" stroke="#FFC000" stroke-width="1.6" fill="none" stroke-linejoin="miter"/>
<text transform="translate(110.30 634.42) scale(0.952 1)" font-family="Liberation Sans" font-weight="normal" font-size="7.60" fill="#595959">PAHs</text>
<text transform="translate(159.46 634.42) scale(0.998 1)" font-family="Liberation Sans" font-weight="normal" font-size="7.74" fill="#595959">BT-UVs</text>
<text transform="translate(216.21 634.43) scale(0.870 1)" font-family="Liberation Sans" font-weight="normal" font-size="7.49" fill="#595959">SS</text>
<text transform="translate(255.26 634.43) scale(0.950 1)" font-family="Liberation Sans" font-weight="normal" font-size="7.49" fill="#595959">OPEs</text>
<text transform="translate(304.07 633.99) scale(1.118 1)" font-family="Liberation Sans" font-weight="normal" font-size="6.87" fill="#595959">PAQs</text>
</svg>
</body></html>
